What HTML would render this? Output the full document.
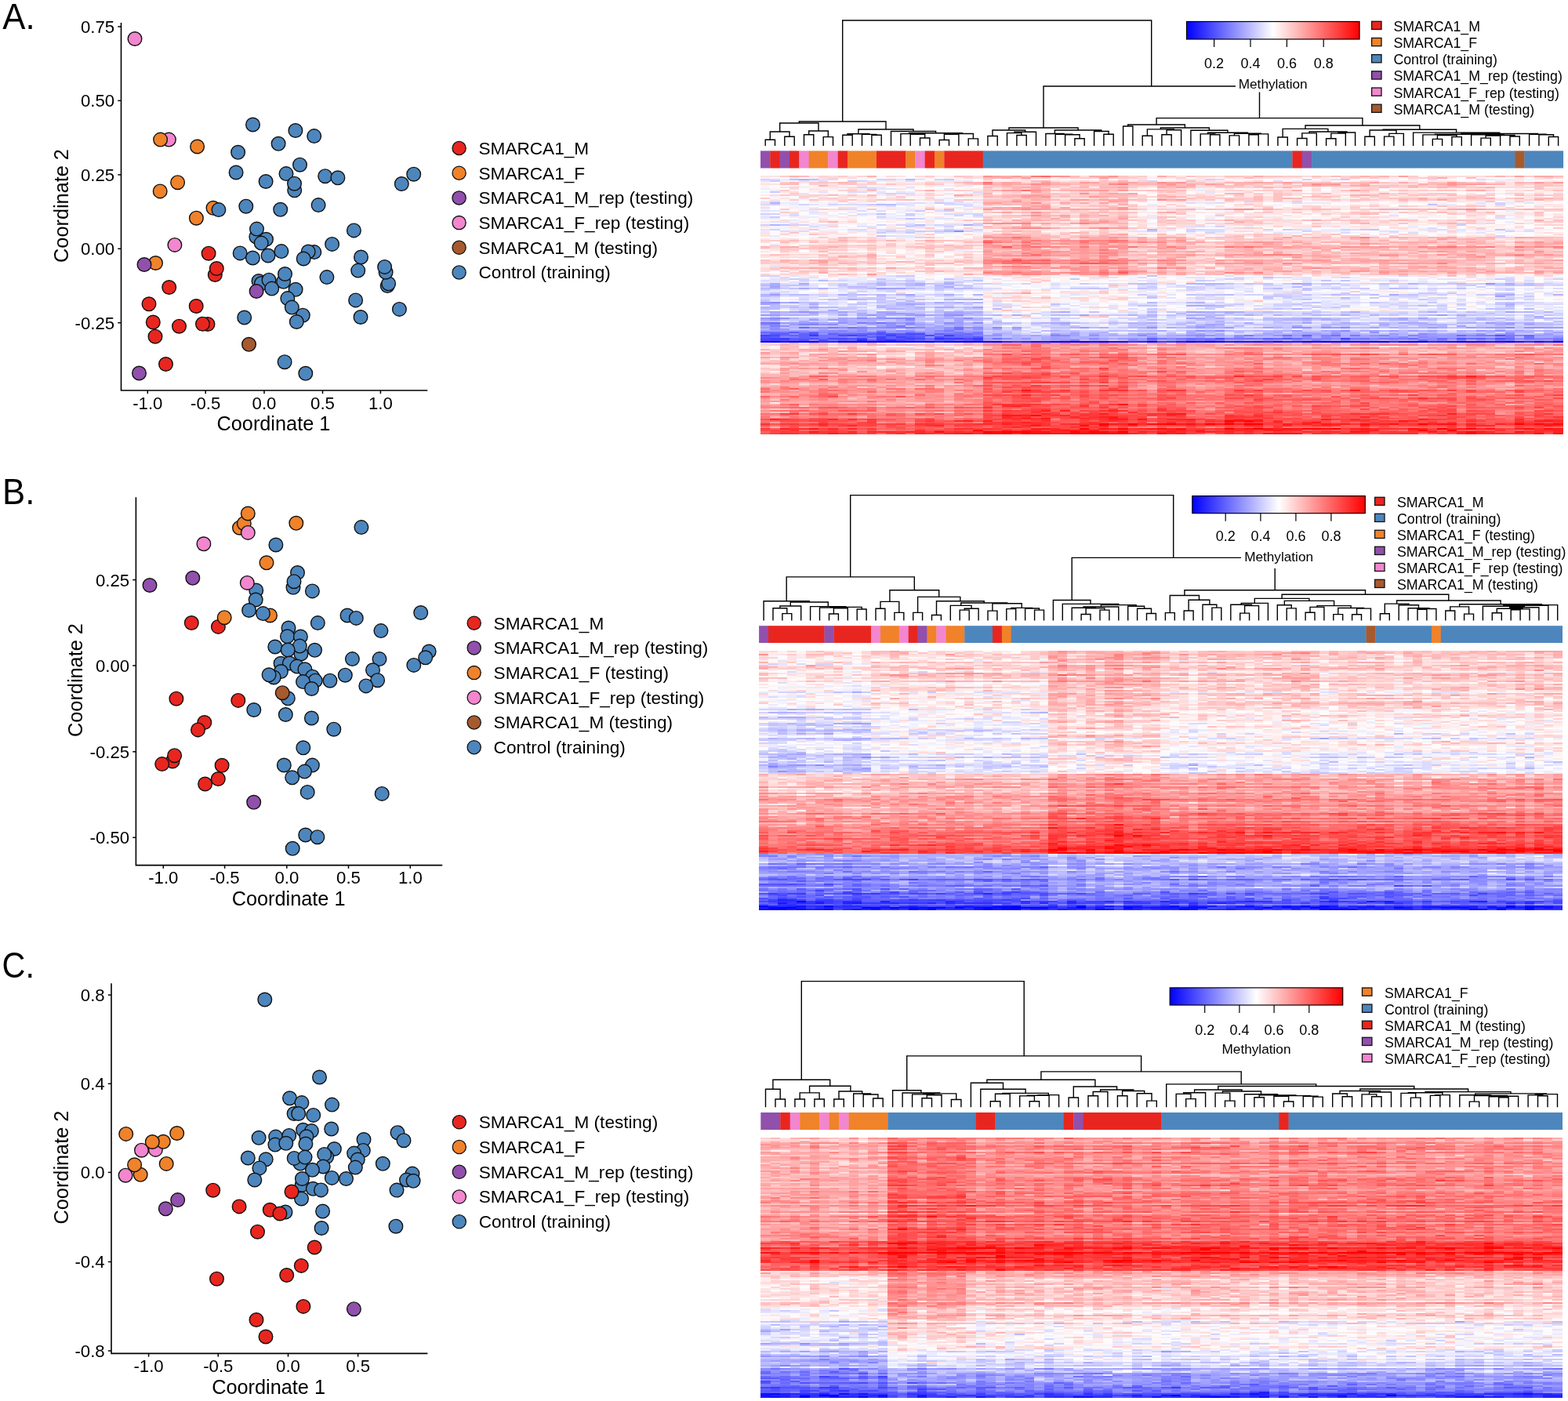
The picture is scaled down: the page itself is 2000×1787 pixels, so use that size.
<!DOCTYPE html>
<html><head><meta charset="utf-8"><title>Figure</title>
<style>html,body{margin:0;padding:0;background:#fff}#w{position:relative;width:2000px;height:1787px;overflow:hidden;background:#fff}svg{position:absolute;left:0;top:0}</style>
</head><body><div id="w">
<div style="position:absolute;left:970.00px;top:224.00px;width:283.70px;height:330.40px;background:linear-gradient(to bottom,#ffe5e5 0.0px 4.0px,#e7e7ff 4.0px 8.0px,#ffd4d4 8.0px 11.9px,#fff2f2 11.9px 15.9px,#fff2f2 15.9px 19.9px,#fbfbff 19.9px 23.9px,#ffe0e0 23.9px 27.9px,#ffe0e0 27.9px 31.8px,#f5f5ff 31.8px 35.8px,#ededff 35.8px 39.8px,#ffeeee 39.8px 43.8px,#f9f9ff 43.8px 47.8px,#efefff 47.8px 51.7px,#f7f7ff 51.7px 55.7px,#fff2f2 55.7px 59.7px,#f2f2ff 59.7px 63.7px,#fffcfc 63.7px 67.7px,#e1e1ff 67.7px 71.7px,#fff6f6 71.7px 75.6px,#fff8f8 75.6px 79.6px,#ffd9d9 79.6px 83.6px,#ffe2e2 83.6px 87.6px,#ffcece 87.6px 91.6px,#ffdcdc 91.6px 95.5px,#ffe9e9 95.5px 99.5px,#ffdada 99.5px 103.5px,#ffe2e2 103.5px 107.5px,#ffcccc 107.5px 111.5px,#ffd7d7 111.5px 115.4px,#ffd9d9 115.4px 119.4px,#ffdada 119.4px 123.4px,#ffe3e3 123.4px 127.4px,#f9f9ff 127.4px 131.4px,#e2e2ff 131.4px 135.3px,#d9d9ff 135.3px 139.3px,#d1d1ff 139.3px 143.3px,#d3d3ff 143.3px 147.3px,#f1f1ff 147.3px 151.3px,#d0d0ff 151.3px 155.2px,#d8d8ff 155.2px 159.2px,#d6d6ff 159.2px 163.2px,#d2d2ff 163.2px 167.2px,#c7c7ff 167.2px 171.2px,#c6c6ff 171.2px 175.2px,#b4b4ff 175.2px 179.1px,#bebeff 179.1px 183.1px,#bbbbff 183.1px 187.1px,#9c9cff 187.1px 191.1px,#9f9fff 191.1px 195.1px,#a1a1ff 195.1px 199.0px,#7272ff 199.0px 203.0px,#6161ff 203.0px 207.0px,#4f4fff 207.0px 211.0px,#9b9bff 211.0px 215.0px,#ffd0d0 215.0px 218.9px,#ffc7c7 218.9px 222.9px,#ffc4c4 222.9px 226.9px,#ffc5c5 226.9px 230.9px,#ffacac 230.9px 234.9px,#ffa7a7 234.9px 238.8px,#ffafaf 238.8px 242.8px,#ffc1c1 242.8px 246.8px,#ffbbbb 246.8px 250.8px,#ffb1b1 250.8px 254.8px,#ff9191 254.8px 258.7px,#ff8d8d 258.7px 262.7px,#ffaaaa 262.7px 266.7px,#ffa1a1 266.7px 270.7px,#ff8a8a 270.7px 274.7px,#ff9494 274.7px 278.7px,#ff8787 278.7px 282.6px,#ff9a9a 282.6px 286.6px,#ffa4a4 286.6px 290.6px,#ff9090 290.6px 294.6px,#ff8181 294.6px 298.6px,#ff8686 298.6px 302.5px,#ff6d6d 302.5px 306.5px,#ff8181 306.5px 310.5px,#ff5252 310.5px 314.5px,#ff5353 314.5px 318.5px,#ff5a5a 318.5px 322.4px,#ff4848 322.4px 326.4px,#ff3636 326.4px 330.4px)"></div><div style="position:absolute;left:1253.70px;top:224.00px;width:185.02px;height:330.40px;background:linear-gradient(to bottom,#ffb2b2 0.0px 4.0px,#ffe1e1 4.0px 8.0px,#ffa9a9 8.0px 11.9px,#ffc0c0 11.9px 15.9px,#ffb6b6 15.9px 19.9px,#ffcbcb 19.9px 23.9px,#ffb6b6 23.9px 27.9px,#ffbebe 27.9px 31.8px,#ffbaba 31.8px 35.8px,#ffcbcb 35.8px 39.8px,#ffadad 39.8px 43.8px,#ffcccc 43.8px 47.8px,#ffcaca 47.8px 51.7px,#ffc8c8 51.7px 55.7px,#ffc0c0 55.7px 59.7px,#ffbebe 59.7px 63.7px,#ffb9b9 63.7px 67.7px,#ffe2e2 67.7px 71.7px,#ffcbcb 71.7px 75.6px,#ffafaf 75.6px 79.6px,#ff9e9e 79.6px 83.6px,#ff9696 83.6px 87.6px,#ff9898 87.6px 91.6px,#ffaaaa 91.6px 95.5px,#ff9e9e 95.5px 99.5px,#ff9898 99.5px 103.5px,#ffb1b1 103.5px 107.5px,#ff7e7e 107.5px 111.5px,#ff9898 111.5px 115.4px,#ff9e9e 115.4px 119.4px,#ffaeae 119.4px 123.4px,#ff9191 123.4px 127.4px,#ffebeb 127.4px 131.4px,#fffafa 131.4px 135.3px,#f3f3ff 135.3px 139.3px,#fdfdff 139.3px 143.3px,#f8f8ff 143.3px 147.3px,#ffe2e2 147.3px 151.3px,#fff7f7 151.3px 155.2px,#ffe7e7 155.2px 159.2px,#fff4f4 159.2px 163.2px,#f2f2ff 163.2px 167.2px,#fff9f9 167.2px 171.2px,#f8f8ff 171.2px 175.2px,#dbdbff 175.2px 179.1px,#f5f5ff 179.1px 183.1px,#efefff 183.1px 187.1px,#cdcdff 187.1px 191.1px,#ceceff 191.1px 195.1px,#d6d6ff 195.1px 199.0px,#c3c3ff 199.0px 203.0px,#acacff 203.0px 207.0px,#a3a3ff 207.0px 211.0px,#c1c1ff 211.0px 215.0px,#ff9090 215.0px 218.9px,#ff8d8d 218.9px 222.9px,#ff8e8e 222.9px 226.9px,#ff7b7b 226.9px 230.9px,#ff7070 230.9px 234.9px,#ff6e6e 234.9px 238.8px,#ff7a7a 238.8px 242.8px,#ff7c7c 242.8px 246.8px,#ff8888 246.8px 250.8px,#ff6a6a 250.8px 254.8px,#ff5a5a 254.8px 258.7px,#ff7373 258.7px 262.7px,#ff6d6d 262.7px 266.7px,#ff5f5f 266.7px 270.7px,#ff5d5d 270.7px 274.7px,#ff6363 274.7px 278.7px,#ff5858 278.7px 282.6px,#ff6363 282.6px 286.6px,#ff6c6c 286.6px 290.6px,#ff4b4b 290.6px 294.6px,#ff5a5a 294.6px 298.6px,#ff4848 298.6px 302.5px,#ff3939 302.5px 306.5px,#ff3535 306.5px 310.5px,#ff4242 310.5px 314.5px,#ff3535 314.5px 318.5px,#ff4141 318.5px 322.4px,#ff2e2e 322.4px 326.4px,#ff0b0b 326.4px 330.4px)"></div><div style="position:absolute;left:1438.73px;top:224.00px;width:555.07px;height:330.40px;background:linear-gradient(to bottom,#ffd4d4 0.0px 4.0px,#fffdfd 4.0px 8.0px,#ffb9b9 8.0px 11.9px,#ffcaca 11.9px 15.9px,#ffdede 15.9px 19.9px,#ffe4e4 19.9px 23.9px,#ffd6d6 23.9px 27.9px,#ffcccc 27.9px 31.8px,#fff5f5 31.8px 35.8px,#ffeeee 35.8px 39.8px,#ffd6d6 39.8px 43.8px,#ffe3e3 43.8px 47.8px,#fff0f0 47.8px 51.7px,#ffeded 51.7px 55.7px,#ffdbdb 55.7px 59.7px,#ffe2e2 59.7px 63.7px,#fff1f1 63.7px 67.7px,#f1f1ff 67.7px 71.7px,#fff3f3 71.7px 75.6px,#ffd2d2 75.6px 79.6px,#ffc8c8 79.6px 83.6px,#ffb7b7 83.6px 87.6px,#ffadad 87.6px 91.6px,#ffbebe 91.6px 95.5px,#ffbfbf 95.5px 99.5px,#ffabab 99.5px 103.5px,#ffc9c9 103.5px 107.5px,#ffb1b1 107.5px 111.5px,#ffc0c0 111.5px 115.4px,#ffbcbc 115.4px 119.4px,#ffbcbc 119.4px 123.4px,#ffc2c2 123.4px 127.4px,#fcfcff 127.4px 131.4px,#f2f2ff 131.4px 135.3px,#e4e4ff 135.3px 139.3px,#e8e8ff 139.3px 143.3px,#e7e7ff 143.3px 147.3px,#fdfdff 147.3px 151.3px,#e1e1ff 151.3px 155.2px,#e9e9ff 155.2px 159.2px,#f1f1ff 159.2px 163.2px,#dedeff 163.2px 167.2px,#ebebff 167.2px 171.2px,#e2e2ff 171.2px 175.2px,#cfcfff 175.2px 179.1px,#d6d6ff 179.1px 183.1px,#d3d3ff 183.1px 187.1px,#c1c1ff 187.1px 191.1px,#babaff 191.1px 195.1px,#cdcdff 195.1px 199.0px,#b9b9ff 199.0px 203.0px,#9a9aff 203.0px 207.0px,#8181ff 207.0px 211.0px,#b0b0ff 211.0px 215.0px,#ffadad 215.0px 218.9px,#ffa2a2 218.9px 222.9px,#ffadad 222.9px 226.9px,#ff8e8e 226.9px 230.9px,#ff8f8f 230.9px 234.9px,#ff9b9b 234.9px 238.8px,#ff8f8f 238.8px 242.8px,#ff9898 242.8px 246.8px,#ff9090 246.8px 250.8px,#ff8f8f 250.8px 254.8px,#ff6464 254.8px 258.7px,#ff7474 258.7px 262.7px,#ff8989 262.7px 266.7px,#ff9090 266.7px 270.7px,#ff7373 270.7px 274.7px,#ff7b7b 274.7px 278.7px,#ff6f6f 278.7px 282.6px,#ff6464 282.6px 286.6px,#ff7878 286.6px 290.6px,#ff6c6c 290.6px 294.6px,#ff6c6c 294.6px 298.6px,#ff6161 298.6px 302.5px,#ff5151 302.5px 306.5px,#ff5757 306.5px 310.5px,#ff4040 310.5px 314.5px,#ff3030 314.5px 318.5px,#ff5252 318.5px 322.4px,#ff2b2b 322.4px 326.4px,#ff3131 326.4px 330.4px)"></div><div style="position:absolute;left:968.10px;top:829.90px;width:142.97px;height:330.70px;background:linear-gradient(to bottom,#ffe0e0 0.0px 4.0px,#ffdada 4.0px 8.0px,#ffebeb 8.0px 12.0px,#ffecec 12.0px 15.9px,#fff9f9 15.9px 19.9px,#ffcaca 19.9px 23.9px,#fff8f8 23.9px 27.9px,#ffdfdf 27.9px 31.9px,#ffe1e1 31.9px 35.9px,#ffe7e7 35.9px 39.8px,#fffbfb 39.8px 43.8px,#fff9f9 43.8px 47.8px,#fffdfd 47.8px 51.8px,#f0f0ff 51.8px 55.8px,#f7f7ff 55.8px 59.8px,#fffdfd 59.8px 63.7px,#fff3f3 63.7px 67.7px,#fffcfc 67.7px 71.7px,#d7d7ff 71.7px 75.7px,#dfdfff 75.7px 79.7px,#fdfdff 79.7px 83.7px,#cdcdff 83.7px 87.7px,#f0f0ff 87.7px 91.6px,#c7c7ff 91.6px 95.6px,#dcdcff 95.6px 99.6px,#babaff 99.6px 103.6px,#d2d2ff 103.6px 107.6px,#f9f9ff 107.6px 111.6px,#c2c2ff 111.6px 115.5px,#f7f7ff 115.5px 119.5px,#f2f2ff 119.5px 123.5px,#e8e8ff 123.5px 127.5px,#e4e4ff 127.5px 131.5px,#bfbfff 131.5px 135.5px,#c8c8ff 135.5px 139.5px,#d0d0ff 139.5px 143.4px,#c1c1ff 143.4px 147.4px,#bdbdff 147.4px 151.4px,#c1c1ff 151.4px 155.4px,#fff4f4 155.4px 159.4px,#ffd7d7 159.4px 163.4px,#ffc6c6 163.4px 167.3px,#ffc4c4 167.3px 171.3px,#ffb9b9 171.3px 175.3px,#ffd7d7 175.3px 179.3px,#ffc4c4 179.3px 183.3px,#ffc1c1 183.3px 187.3px,#ff9d9d 187.3px 191.2px,#ffa2a2 191.2px 195.2px,#ffadad 195.2px 199.2px,#ffb7b7 199.2px 203.2px,#ffb6b6 203.2px 207.2px,#ffa4a4 207.2px 211.2px,#ff8f8f 211.2px 215.2px,#ff8f8f 215.2px 219.1px,#ffabab 219.1px 223.1px,#ff8989 223.1px 227.1px,#ff8888 227.1px 231.1px,#ff7b7b 231.1px 235.1px,#ff7a7a 235.1px 239.1px,#ff6f6f 239.1px 243.0px,#ff7a7a 243.0px 247.0px,#ff7070 247.0px 251.0px,#ff5353 251.0px 255.0px,#ff6060 255.0px 259.0px,#9d9dff 259.0px 263.0px,#acacff 263.0px 267.0px,#aeaeff 267.0px 270.9px,#9696ff 270.9px 274.9px,#8585ff 274.9px 278.9px,#9393ff 278.9px 282.9px,#a9a9ff 282.9px 286.9px,#7f7fff 286.9px 290.9px,#7272ff 290.9px 294.8px,#7a7aff 294.8px 298.8px,#8b8bff 298.8px 302.8px,#7373ff 302.8px 306.8px,#6262ff 306.8px 310.8px,#6969ff 310.8px 314.8px,#5252ff 314.8px 318.7px,#3333ff 318.7px 322.7px,#3838ff 322.7px 326.7px,#1b1bff 326.7px 330.7px)"></div><div style="position:absolute;left:1111.07px;top:829.90px;width:226.37px;height:330.70px;background:linear-gradient(to bottom,#ffd4d4 0.0px 4.0px,#ffd1d1 4.0px 8.0px,#ffe1e1 8.0px 12.0px,#ffdede 12.0px 15.9px,#ffdbdb 15.9px 19.9px,#ffc7c7 19.9px 23.9px,#ffeded 23.9px 27.9px,#ffb8b8 27.9px 31.9px,#ffc7c7 31.9px 35.9px,#ffd2d2 35.9px 39.8px,#fff4f4 39.8px 43.8px,#ffdddd 43.8px 47.8px,#ffdbdb 47.8px 51.8px,#fff4f4 51.8px 55.8px,#fff2f2 55.8px 59.8px,#ffe9e9 59.8px 63.7px,#ffe6e6 63.7px 67.7px,#ffe7e7 67.7px 71.7px,#fffcfc 71.7px 75.7px,#f6f6ff 75.7px 79.7px,#fff7f7 79.7px 83.7px,#f4f4ff 83.7px 87.7px,#ffffff 87.7px 91.6px,#f2f2ff 91.6px 95.6px,#fefeff 95.6px 99.6px,#ddddff 99.6px 103.6px,#e7e7ff 103.6px 107.6px,#fff3f3 107.6px 111.6px,#ddddff 111.6px 115.5px,#fff7f7 115.5px 119.5px,#fff9f9 119.5px 123.5px,#fffdfd 123.5px 127.5px,#fffefe 127.5px 131.5px,#e7e7ff 131.5px 135.5px,#e3e3ff 135.5px 139.5px,#e6e6ff 139.5px 143.4px,#dbdbff 143.4px 147.4px,#d8d8ff 147.4px 151.4px,#e5e5ff 151.4px 155.4px,#ffe9e9 155.4px 159.4px,#ffcece 159.4px 163.4px,#ffb7b7 163.4px 167.3px,#ffadad 167.3px 171.3px,#ffaeae 171.3px 175.3px,#ffc4c4 175.3px 179.3px,#ffbfbf 179.3px 183.3px,#ffa6a6 183.3px 187.3px,#ff9f9f 187.3px 191.2px,#ffa3a3 191.2px 195.2px,#ffa2a2 195.2px 199.2px,#ffb2b2 199.2px 203.2px,#ffb1b1 203.2px 207.2px,#ff9191 207.2px 211.2px,#ff8d8d 211.2px 215.2px,#ffa0a0 215.2px 219.1px,#ff8787 219.1px 223.1px,#ff8585 223.1px 227.1px,#ff7e7e 227.1px 231.1px,#ff6b6b 231.1px 235.1px,#ff6c6c 235.1px 239.1px,#ff6e6e 239.1px 243.0px,#ff6b6b 243.0px 247.0px,#ff5c5c 247.0px 251.0px,#ff4a4a 251.0px 255.0px,#ff4a4a 255.0px 259.0px,#a9a9ff 259.0px 263.0px,#adadff 263.0px 267.0px,#b4b4ff 267.0px 270.9px,#a6a6ff 270.9px 274.9px,#8c8cff 274.9px 278.9px,#9b9bff 278.9px 282.9px,#a9a9ff 282.9px 286.9px,#9898ff 286.9px 290.9px,#7575ff 290.9px 294.8px,#9393ff 294.8px 298.8px,#8a8aff 298.8px 302.8px,#8181ff 302.8px 306.8px,#5c5cff 306.8px 310.8px,#7272ff 310.8px 314.8px,#6161ff 314.8px 318.7px,#3f3fff 318.7px 322.7px,#4a4aff 322.7px 326.7px,#1414ff 326.7px 330.7px)"></div><div style="position:absolute;left:1337.43px;top:829.90px;width:142.97px;height:330.70px;background:linear-gradient(to bottom,#ffadad 0.0px 4.0px,#ffb1b1 4.0px 8.0px,#ffa6a6 8.0px 12.0px,#ffbaba 12.0px 15.9px,#ffbebe 15.9px 19.9px,#ffabab 19.9px 23.9px,#ffcaca 23.9px 27.9px,#ffa8a8 27.9px 31.9px,#ffbbbb 31.9px 35.9px,#ff9f9f 35.9px 39.8px,#ffb4b4 39.8px 43.8px,#ffbbbb 43.8px 47.8px,#ffc2c2 47.8px 51.8px,#ffbdbd 51.8px 55.8px,#ffb9b9 55.8px 59.8px,#ffc1c1 59.8px 63.7px,#ffbaba 63.7px 67.7px,#ffbfbf 67.7px 71.7px,#ffcccc 71.7px 75.7px,#ffcfcf 75.7px 79.7px,#ffc7c7 79.7px 83.7px,#ffe2e2 83.7px 87.7px,#ffbfbf 87.7px 91.6px,#ffe6e6 91.6px 95.6px,#ffcdcd 95.6px 99.6px,#ffecec 99.6px 103.6px,#ffe7e7 103.6px 107.6px,#ffbbbb 107.6px 111.6px,#fff6f6 111.6px 115.5px,#ffc4c4 115.5px 119.5px,#ffc9c9 119.5px 123.5px,#ffe4e4 123.5px 127.5px,#ffdddd 127.5px 131.5px,#fff1f1 131.5px 135.5px,#ffeded 135.5px 139.5px,#ffdddd 139.5px 143.4px,#fffcfc 143.4px 147.4px,#fff5f5 147.4px 151.4px,#fff6f6 151.4px 155.4px,#ffbfbf 155.4px 159.4px,#ffa5a5 159.4px 163.4px,#ff8d8d 163.4px 167.3px,#ff8f8f 167.3px 171.3px,#ff8585 171.3px 175.3px,#ff9f9f 175.3px 179.3px,#ff9f9f 179.3px 183.3px,#ff8a8a 183.3px 187.3px,#ff7171 187.3px 191.2px,#ff8989 191.2px 195.2px,#ff6e6e 195.2px 199.2px,#ff8d8d 199.2px 203.2px,#ff8484 203.2px 207.2px,#ff7676 207.2px 211.2px,#ff5757 211.2px 215.2px,#ff6f6f 215.2px 219.1px,#ff6565 219.1px 223.1px,#ff5555 223.1px 227.1px,#ff4e4e 227.1px 231.1px,#ff4141 231.1px 235.1px,#ff3f3f 235.1px 239.1px,#ff4a4a 239.1px 243.0px,#ff4848 243.0px 247.0px,#ff2d2d 247.0px 251.0px,#ff2828 251.0px 255.0px,#ff1c1c 255.0px 259.0px,#cbcbff 259.0px 263.0px,#b9b9ff 263.0px 267.0px,#bcbcff 267.0px 270.9px,#bbbbff 270.9px 274.9px,#a2a2ff 274.9px 278.9px,#b9b9ff 278.9px 282.9px,#b5b5ff 282.9px 286.9px,#9e9eff 286.9px 290.9px,#9696ff 290.9px 294.8px,#a6a6ff 294.8px 298.8px,#aaaaff 298.8px 302.8px,#9d9dff 302.8px 306.8px,#7e7eff 306.8px 310.8px,#8585ff 310.8px 314.8px,#7878ff 314.8px 318.7px,#4646ff 318.7px 322.7px,#4c4cff 322.7px 326.7px,#2525ff 326.7px 330.7px)"></div><div style="position:absolute;left:1480.40px;top:829.90px;width:512.30px;height:330.70px;background:linear-gradient(to bottom,#ffbcbc 0.0px 4.0px,#ffc3c3 4.0px 8.0px,#ffc7c7 8.0px 12.0px,#ffd6d6 12.0px 15.9px,#ffd3d3 15.9px 19.9px,#ffc0c0 19.9px 23.9px,#ffe5e5 23.9px 27.9px,#ffbebe 27.9px 31.9px,#ffc9c9 31.9px 35.9px,#ffc6c6 35.9px 39.8px,#ffdada 39.8px 43.8px,#ffd0d0 43.8px 47.8px,#ffd2d2 47.8px 51.8px,#ffe6e6 51.8px 55.8px,#ffd6d6 55.8px 59.8px,#ffdada 59.8px 63.7px,#ffc5c5 63.7px 67.7px,#ffd1d1 67.7px 71.7px,#ffdfdf 71.7px 75.7px,#fff1f1 75.7px 79.7px,#ffdbdb 79.7px 83.7px,#ffefef 83.7px 87.7px,#ffe9e9 87.7px 91.6px,#fffdfd 91.6px 95.6px,#ffeaea 95.6px 99.6px,#fdfdff 99.6px 103.6px,#f9f9ff 103.6px 107.6px,#ffe9e9 107.6px 111.6px,#f2f2ff 111.6px 115.5px,#ffe3e3 115.5px 119.5px,#fff0f0 119.5px 123.5px,#fff1f1 123.5px 127.5px,#fffafa 127.5px 131.5px,#f3f3ff 131.5px 135.5px,#f2f2ff 135.5px 139.5px,#f7f7ff 139.5px 143.4px,#e9e9ff 143.4px 147.4px,#e9e9ff 147.4px 151.4px,#eeeeff 151.4px 155.4px,#ffe0e0 155.4px 159.4px,#ffbaba 159.4px 163.4px,#ff9e9e 163.4px 167.3px,#ff9b9b 167.3px 171.3px,#ff9c9c 171.3px 175.3px,#ffa2a2 175.3px 179.3px,#ff9f9f 179.3px 183.3px,#ff9a9a 183.3px 187.3px,#ff8484 187.3px 191.2px,#ff9494 191.2px 195.2px,#ff8a8a 195.2px 199.2px,#ff9e9e 199.2px 203.2px,#ff9999 203.2px 207.2px,#ff6969 207.2px 211.2px,#ff7979 211.2px 215.2px,#ff8585 215.2px 219.1px,#ff7171 219.1px 223.1px,#ff6262 223.1px 227.1px,#ff5b5b 227.1px 231.1px,#ff4a4a 231.1px 235.1px,#ff4b4b 235.1px 239.1px,#ff5d5d 239.1px 243.0px,#ff4747 243.0px 247.0px,#ff4444 247.0px 251.0px,#ff2323 251.0px 255.0px,#ff2020 255.0px 259.0px,#c2c2ff 259.0px 263.0px,#c3c3ff 263.0px 267.0px,#c3c3ff 267.0px 270.9px,#aaaaff 270.9px 274.9px,#9a9aff 274.9px 278.9px,#a8a8ff 278.9px 282.9px,#bcbcff 282.9px 286.9px,#9292ff 286.9px 290.9px,#8a8aff 290.9px 294.8px,#9c9cff 294.8px 298.8px,#a5a5ff 298.8px 302.8px,#9292ff 302.8px 306.8px,#6f6fff 306.8px 310.8px,#7575ff 310.8px 314.8px,#6f6fff 314.8px 318.7px,#4848ff 318.7px 322.7px,#4c4cff 322.7px 326.7px,#2121ff 326.7px 330.7px)"></div><div style="position:absolute;left:970.30px;top:1450.70px;width:162.09px;height:332.00px;background:linear-gradient(to bottom,#ffc5c5 0.0px 4.0px,#ffb3b3 4.0px 8.0px,#ffa5a5 8.0px 12.0px,#ffaeae 12.0px 16.0px,#ffb7b7 16.0px 20.0px,#ffbaba 20.0px 24.0px,#ffa2a2 24.0px 28.0px,#ffb9b9 28.0px 32.0px,#ffbbbb 32.0px 36.0px,#ffabab 36.0px 40.0px,#ffb5b5 40.0px 44.0px,#ffb3b3 44.0px 48.0px,#ffb3b3 48.0px 52.0px,#ffa3a3 52.0px 56.0px,#ffb2b2 56.0px 60.0px,#ffb5b5 60.0px 64.0px,#ffabab 64.0px 68.0px,#ff9f9f 68.0px 72.0px,#ffa2a2 72.0px 76.0px,#ffaaaa 76.0px 80.0px,#ff9393 80.0px 84.0px,#ffa1a1 84.0px 88.0px,#ffaaaa 88.0px 92.0px,#ff9f9f 92.0px 96.0px,#ffb9b9 96.0px 100.0px,#ff8c8c 100.0px 104.0px,#ff8484 104.0px 108.0px,#ffa9a9 108.0px 112.0px,#ffa3a3 112.0px 116.0px,#ff9c9c 116.0px 120.0px,#ff9595 120.0px 124.0px,#ff8b8b 124.0px 128.0px,#ff9595 128.0px 132.0px,#ff5757 132.0px 136.0px,#ff6767 136.0px 140.0px,#ff4040 140.0px 144.0px,#ff3d3d 144.0px 148.0px,#ff5757 148.0px 152.0px,#ff5353 152.0px 156.0px,#ff3c3c 156.0px 160.0px,#ff6a6a 160.0px 164.0px,#ff5252 164.0px 168.0px,#ff9898 168.0px 172.0px,#ffc1c1 172.0px 176.0px,#ffdddd 176.0px 180.0px,#ffe8e8 180.0px 184.0px,#ffe4e4 184.0px 188.0px,#ffe6e6 188.0px 192.0px,#ffe2e2 192.0px 196.0px,#ffdddd 196.0px 200.0px,#ffe0e0 200.0px 204.0px,#ffe3e3 204.0px 208.0px,#ffd8d8 208.0px 212.0px,#ffdada 212.0px 216.0px,#fffefe 216.0px 220.0px,#f0f0ff 220.0px 224.0px,#fff1f1 224.0px 228.0px,#fff9f9 228.0px 232.0px,#d9d9ff 232.0px 236.0px,#ededff 236.0px 240.0px,#ddddff 240.0px 244.0px,#cdcdff 244.0px 248.0px,#e2e2ff 248.0px 252.0px,#e6e6ff 252.0px 256.0px,#ebebff 256.0px 260.0px,#c5c5ff 260.0px 264.0px,#e9e9ff 264.0px 268.0px,#ddddff 268.0px 272.0px,#c3c3ff 272.0px 276.0px,#b2b2ff 276.0px 280.0px,#b8b8ff 280.0px 284.0px,#a2a2ff 284.0px 288.0px,#b0b0ff 288.0px 292.0px,#adadff 292.0px 296.0px,#8b8bff 296.0px 300.0px,#8787ff 300.0px 304.0px,#6868ff 304.0px 308.0px,#8080ff 308.0px 312.0px,#7171ff 312.0px 316.0px,#6565ff 316.0px 320.0px,#5a5aff 320.0px 324.0px,#4242ff 324.0px 328.0px,#1e1eff 328.0px 332.0px)"></div><div style="position:absolute;left:1132.39px;top:1450.70px;width:99.75px;height:332.00px;background:linear-gradient(to bottom,#ff8181 0.0px 4.0px,#ff7878 4.0px 8.0px,#ff6969 8.0px 12.0px,#ff6868 12.0px 16.0px,#ff7373 16.0px 20.0px,#ff8585 20.0px 24.0px,#ff5f5f 24.0px 28.0px,#ff7c7c 28.0px 32.0px,#ff6b6b 32.0px 36.0px,#ff6e6e 36.0px 40.0px,#ff6c6c 40.0px 44.0px,#ff7575 44.0px 48.0px,#ff7373 48.0px 52.0px,#ff6060 52.0px 56.0px,#ff6464 56.0px 60.0px,#ff6868 60.0px 64.0px,#ff6a6a 64.0px 68.0px,#ff6a6a 68.0px 72.0px,#ff5454 72.0px 76.0px,#ff6767 76.0px 80.0px,#ff5353 80.0px 84.0px,#ff5d5d 84.0px 88.0px,#ff6666 88.0px 92.0px,#ff5959 92.0px 96.0px,#ff6a6a 96.0px 100.0px,#ff5252 100.0px 104.0px,#ff5050 104.0px 108.0px,#ff6a6a 108.0px 112.0px,#ff6464 112.0px 116.0px,#ff4848 116.0px 120.0px,#ff5454 120.0px 124.0px,#ff4d4d 124.0px 128.0px,#ff5656 128.0px 132.0px,#ff2828 132.0px 136.0px,#ff3838 136.0px 140.0px,#ff2121 140.0px 144.0px,#ff1a1a 144.0px 148.0px,#ff3737 148.0px 152.0px,#ff3c3c 152.0px 156.0px,#ff2a2a 156.0px 160.0px,#ff4646 160.0px 164.0px,#ff3636 164.0px 168.0px,#ff6565 168.0px 172.0px,#ff7474 172.0px 176.0px,#ff9999 176.0px 180.0px,#ff9494 180.0px 184.0px,#ff9696 184.0px 188.0px,#ff9191 188.0px 192.0px,#ff8f8f 192.0px 196.0px,#ff9494 196.0px 200.0px,#ff9898 200.0px 204.0px,#ff9696 204.0px 208.0px,#ff9c9c 208.0px 212.0px,#ff9090 212.0px 216.0px,#ffb7b7 216.0px 220.0px,#ffb9b9 220.0px 224.0px,#ffaaaa 224.0px 228.0px,#ffb0b0 228.0px 232.0px,#ffdbdb 232.0px 236.0px,#ffbfbf 236.0px 240.0px,#ffcdcd 240.0px 244.0px,#ffdfdf 244.0px 248.0px,#ffcbcb 248.0px 252.0px,#ffcbcb 252.0px 256.0px,#ffe6e6 256.0px 260.0px,#fff2f2 260.0px 264.0px,#ffeaea 264.0px 268.0px,#ffeded 268.0px 272.0px,#efefff 272.0px 276.0px,#ebebff 276.0px 280.0px,#f4f4ff 280.0px 284.0px,#e8e8ff 284.0px 288.0px,#d5d5ff 288.0px 292.0px,#c1c1ff 292.0px 296.0px,#b9b9ff 296.0px 300.0px,#a7a7ff 300.0px 304.0px,#9d9dff 304.0px 308.0px,#a2a2ff 308.0px 312.0px,#9292ff 312.0px 316.0px,#7c7cff 316.0px 320.0px,#7a7aff 320.0px 324.0px,#5757ff 324.0px 328.0px,#3f3fff 328.0px 332.0px)"></div><div style="position:absolute;left:1232.13px;top:1450.70px;width:760.57px;height:332.00px;background:linear-gradient(to bottom,#ff9e9e 0.0px 4.0px,#ff9494 4.0px 8.0px,#ff8d8d 8.0px 12.0px,#ff7f7f 12.0px 16.0px,#ff8c8c 16.0px 20.0px,#ff9797 20.0px 24.0px,#ff8f8f 24.0px 28.0px,#ff9090 28.0px 32.0px,#ff8787 32.0px 36.0px,#ff8d8d 36.0px 40.0px,#ff8d8d 40.0px 44.0px,#ff9494 44.0px 48.0px,#ff8f8f 48.0px 52.0px,#ff7575 52.0px 56.0px,#ff8282 56.0px 60.0px,#ff8282 60.0px 64.0px,#ff9494 64.0px 68.0px,#ff7d7d 68.0px 72.0px,#ff7979 72.0px 76.0px,#ff8a8a 76.0px 80.0px,#ff6e6e 80.0px 84.0px,#ff6f6f 84.0px 88.0px,#ff8383 88.0px 92.0px,#ff7575 92.0px 96.0px,#ff8c8c 96.0px 100.0px,#ff6969 100.0px 104.0px,#ff6464 104.0px 108.0px,#ff7a7a 108.0px 112.0px,#ff7575 112.0px 116.0px,#ff7272 116.0px 120.0px,#ff7a7a 120.0px 124.0px,#ff7878 124.0px 128.0px,#ff6b6b 128.0px 132.0px,#ff3e3e 132.0px 136.0px,#ff3b3b 136.0px 140.0px,#ff2929 140.0px 144.0px,#ff2424 144.0px 148.0px,#ff3434 148.0px 152.0px,#ff3232 152.0px 156.0px,#ff2323 156.0px 160.0px,#ff4e4e 160.0px 164.0px,#ff3939 164.0px 168.0px,#ff7a7a 168.0px 172.0px,#ffa5a5 172.0px 176.0px,#ffbbbb 176.0px 180.0px,#ffcece 180.0px 184.0px,#ffbfbf 184.0px 188.0px,#ffc5c5 188.0px 192.0px,#ffc8c8 192.0px 196.0px,#ffc6c6 196.0px 200.0px,#ffc9c9 200.0px 204.0px,#ffc4c4 204.0px 208.0px,#ffc3c3 208.0px 212.0px,#ffc6c6 212.0px 216.0px,#ffebeb 216.0px 220.0px,#ffeaea 220.0px 224.0px,#ffcece 224.0px 228.0px,#ffd9d9 228.0px 232.0px,#f6f6ff 232.0px 236.0px,#ffe8e8 236.0px 240.0px,#fff7f7 240.0px 244.0px,#fcfcff 244.0px 248.0px,#fff8f8 248.0px 252.0px,#ffefef 252.0px 256.0px,#fdfdff 256.0px 260.0px,#f6f6ff 260.0px 264.0px,#fff1f1 264.0px 268.0px,#fdfdff 268.0px 272.0px,#e6e6ff 272.0px 276.0px,#e4e4ff 276.0px 280.0px,#ebebff 280.0px 284.0px,#dbdbff 284.0px 288.0px,#ccccff 288.0px 292.0px,#c7c7ff 292.0px 296.0px,#c7c7ff 296.0px 300.0px,#9898ff 300.0px 304.0px,#9999ff 304.0px 308.0px,#9f9fff 308.0px 312.0px,#8a8aff 312.0px 316.0px,#7d7dff 316.0px 320.0px,#7c7cff 320.0px 324.0px,#5454ff 324.0px 328.0px,#3333ff 328.0px 332.0px)"></div><canvas id="hA" width="1024" height="331" style="position:absolute;left:970px;top:224px;width:1024px;height:331px;filter:blur(0.45px)"></canvas><canvas id="hB" width="1025" height="332" style="position:absolute;left:968px;top:829px;width:1025px;height:332px;filter:blur(0.45px)"></canvas><canvas id="hC" width="1023" height="333" style="position:absolute;left:970px;top:1450px;width:1023px;height:333px;filter:blur(0.45px)"></canvas>
<svg width="2000" height="1787" viewBox="0 0 2000 1787">
<text transform="translate(3.3 37) scale(0.93 1)" font-size="47" font-family="'Liberation Sans', Arial, Helvetica, sans-serif">A.</text>
<path d="M154.5 29V498H545.3" fill="none" stroke="#000" stroke-width="1.6"/>
<path d="M188.3 498v4.2" stroke="#000" stroke-width="1.5"/>
<text x="188.3" y="521.8" font-size="22.2" text-anchor="middle" font-family="'Liberation Sans', Arial, Helvetica, sans-serif">-1.0</text>
<path d="M262.2 498v4.2" stroke="#000" stroke-width="1.5"/>
<text x="262.2" y="521.8" font-size="22.2" text-anchor="middle" font-family="'Liberation Sans', Arial, Helvetica, sans-serif">-0.5</text>
<path d="M337 498v4.2" stroke="#000" stroke-width="1.5"/>
<text x="337" y="521.8" font-size="22.2" text-anchor="middle" font-family="'Liberation Sans', Arial, Helvetica, sans-serif">0.0</text>
<path d="M411.5 498v4.2" stroke="#000" stroke-width="1.5"/>
<text x="411.5" y="521.8" font-size="22.2" text-anchor="middle" font-family="'Liberation Sans', Arial, Helvetica, sans-serif">0.5</text>
<path d="M485.4 498v4.2" stroke="#000" stroke-width="1.5"/>
<text x="485.4" y="521.8" font-size="22.2" text-anchor="middle" font-family="'Liberation Sans', Arial, Helvetica, sans-serif">1.0</text>
<path d="M154.5 34h-4.2" stroke="#000" stroke-width="1.5"/>
<text x="146.2" y="41.9" font-size="22.2" text-anchor="end" font-family="'Liberation Sans', Arial, Helvetica, sans-serif">0.75</text>
<path d="M154.5 128.4h-4.2" stroke="#000" stroke-width="1.5"/>
<text x="146.2" y="136.3" font-size="22.2" text-anchor="end" font-family="'Liberation Sans', Arial, Helvetica, sans-serif">0.50</text>
<path d="M154.5 222.9h-4.2" stroke="#000" stroke-width="1.5"/>
<text x="146.2" y="230.8" font-size="22.2" text-anchor="end" font-family="'Liberation Sans', Arial, Helvetica, sans-serif">0.25</text>
<path d="M154.5 317.3h-4.2" stroke="#000" stroke-width="1.5"/>
<text x="146.2" y="325.2" font-size="22.2" text-anchor="end" font-family="'Liberation Sans', Arial, Helvetica, sans-serif">0.00</text>
<path d="M154.5 411.7h-4.2" stroke="#000" stroke-width="1.5"/>
<text x="146.2" y="419.59999999999997" font-size="22.2" text-anchor="end" font-family="'Liberation Sans', Arial, Helvetica, sans-serif">-0.25</text>
<text x="348.9" y="549" font-size="25.3" text-anchor="middle" font-family="'Liberation Sans', Arial, Helvetica, sans-serif">Coordinate 1</text>
<text transform="translate(86.6 262.5) rotate(-90)" font-size="25.3" text-anchor="middle" font-family="'Liberation Sans', Arial, Helvetica, sans-serif">Coordinate 2</text>
<circle cx="172" cy="49.5" r="8.8" fill="#f286cf" stroke="#111" stroke-width="1.4"/>
<circle cx="215.4" cy="178.1" r="8.8" fill="#f286cf" stroke="#111" stroke-width="1.4"/>
<circle cx="222.9" cy="312.4" r="8.8" fill="#f286cf" stroke="#111" stroke-width="1.4"/>
<circle cx="204.6" cy="178.1" r="8.8" fill="#f0822a" stroke="#111" stroke-width="1.4"/>
<circle cx="251.6" cy="187.0" r="8.8" fill="#f0822a" stroke="#111" stroke-width="1.4"/>
<circle cx="226.6" cy="232.7" r="8.8" fill="#f0822a" stroke="#111" stroke-width="1.4"/>
<circle cx="204.2" cy="243.9" r="8.8" fill="#f0822a" stroke="#111" stroke-width="1.4"/>
<circle cx="272.0" cy="265.3" r="8.8" fill="#f0822a" stroke="#111" stroke-width="1.4"/>
<circle cx="250.4" cy="278.2" r="8.8" fill="#f0822a" stroke="#111" stroke-width="1.4"/>
<circle cx="198.5" cy="335.5" r="8.8" fill="#f0822a" stroke="#111" stroke-width="1.4"/>
<circle cx="322.5" cy="159.0" r="8.8" fill="#4d86bd" stroke="#111" stroke-width="1.4"/>
<circle cx="376.9" cy="166.5" r="8.8" fill="#4d86bd" stroke="#111" stroke-width="1.4"/>
<circle cx="400.7" cy="173.6" r="8.8" fill="#4d86bd" stroke="#111" stroke-width="1.4"/>
<circle cx="355.1" cy="183.3" r="8.8" fill="#4d86bd" stroke="#111" stroke-width="1.4"/>
<circle cx="303.6" cy="194.3" r="8.8" fill="#4d86bd" stroke="#111" stroke-width="1.4"/>
<circle cx="382.5" cy="210.2" r="8.8" fill="#4d86bd" stroke="#111" stroke-width="1.4"/>
<circle cx="301.1" cy="220.0" r="8.8" fill="#4d86bd" stroke="#111" stroke-width="1.4"/>
<circle cx="365.0" cy="221.6" r="8.8" fill="#4d86bd" stroke="#111" stroke-width="1.4"/>
<circle cx="414.7" cy="224.7" r="8.8" fill="#4d86bd" stroke="#111" stroke-width="1.4"/>
<circle cx="430.9" cy="226.8" r="8.8" fill="#4d86bd" stroke="#111" stroke-width="1.4"/>
<circle cx="527.7" cy="222.2" r="8.8" fill="#4d86bd" stroke="#111" stroke-width="1.4"/>
<circle cx="512.3" cy="234.5" r="8.8" fill="#4d86bd" stroke="#111" stroke-width="1.4"/>
<circle cx="339.1" cy="231.5" r="8.8" fill="#4d86bd" stroke="#111" stroke-width="1.4"/>
<circle cx="375.7" cy="242.8" r="8.8" fill="#4d86bd" stroke="#111" stroke-width="1.4"/>
<circle cx="375.5" cy="234.2" r="8.8" fill="#4d86bd" stroke="#111" stroke-width="1.4"/>
<circle cx="406.1" cy="261.6" r="8.8" fill="#4d86bd" stroke="#111" stroke-width="1.4"/>
<circle cx="357.7" cy="267.3" r="8.8" fill="#4d86bd" stroke="#111" stroke-width="1.4"/>
<circle cx="313.8" cy="263.2" r="8.8" fill="#4d86bd" stroke="#111" stroke-width="1.4"/>
<circle cx="278.9" cy="267.6" r="8.8" fill="#4d86bd" stroke="#111" stroke-width="1.4"/>
<circle cx="451.4" cy="293.9" r="8.8" fill="#4d86bd" stroke="#111" stroke-width="1.4"/>
<circle cx="326.8" cy="302.0" r="8.8" fill="#4d86bd" stroke="#111" stroke-width="1.4"/>
<circle cx="339.5" cy="305.3" r="8.8" fill="#4d86bd" stroke="#111" stroke-width="1.4"/>
<circle cx="333.2" cy="310.1" r="8.8" fill="#4d86bd" stroke="#111" stroke-width="1.4"/>
<circle cx="327.5" cy="292.1" r="8.8" fill="#4d86bd" stroke="#111" stroke-width="1.4"/>
<circle cx="423.6" cy="311.4" r="8.8" fill="#4d86bd" stroke="#111" stroke-width="1.4"/>
<circle cx="306.2" cy="322.9" r="8.8" fill="#4d86bd" stroke="#111" stroke-width="1.4"/>
<circle cx="322.4" cy="329.0" r="8.8" fill="#4d86bd" stroke="#111" stroke-width="1.4"/>
<circle cx="342.0" cy="326.0" r="8.8" fill="#4d86bd" stroke="#111" stroke-width="1.4"/>
<circle cx="358.9" cy="320.6" r="8.8" fill="#4d86bd" stroke="#111" stroke-width="1.4"/>
<circle cx="400.8" cy="321.6" r="8.8" fill="#4d86bd" stroke="#111" stroke-width="1.4"/>
<circle cx="393.2" cy="321.0" r="8.8" fill="#4d86bd" stroke="#111" stroke-width="1.4"/>
<circle cx="387.2" cy="330.0" r="8.8" fill="#4d86bd" stroke="#111" stroke-width="1.4"/>
<circle cx="460.5" cy="328.0" r="8.8" fill="#4d86bd" stroke="#111" stroke-width="1.4"/>
<circle cx="456.7" cy="345.1" r="8.8" fill="#4d86bd" stroke="#111" stroke-width="1.4"/>
<circle cx="494.2" cy="364.6" r="8.8" fill="#4d86bd" stroke="#111" stroke-width="1.4"/>
<circle cx="495.6" cy="361.8" r="8.8" fill="#4d86bd" stroke="#111" stroke-width="1.4"/>
<circle cx="492.1" cy="347.2" r="8.8" fill="#4d86bd" stroke="#111" stroke-width="1.4"/>
<circle cx="490.6" cy="340.4" r="8.8" fill="#4d86bd" stroke="#111" stroke-width="1.4"/>
<circle cx="416.9" cy="353.6" r="8.8" fill="#4d86bd" stroke="#111" stroke-width="1.4"/>
<circle cx="361.6" cy="359.3" r="8.8" fill="#4d86bd" stroke="#111" stroke-width="1.4"/>
<circle cx="363.5" cy="349.5" r="8.8" fill="#4d86bd" stroke="#111" stroke-width="1.4"/>
<circle cx="330.0" cy="358.5" r="8.8" fill="#4d86bd" stroke="#111" stroke-width="1.4"/>
<circle cx="333.4" cy="361.5" r="8.8" fill="#4d86bd" stroke="#111" stroke-width="1.4"/>
<circle cx="343.0" cy="357.2" r="8.8" fill="#4d86bd" stroke="#111" stroke-width="1.4"/>
<circle cx="346.7" cy="368.1" r="8.8" fill="#4d86bd" stroke="#111" stroke-width="1.4"/>
<circle cx="377.1" cy="369.3" r="8.8" fill="#4d86bd" stroke="#111" stroke-width="1.4"/>
<circle cx="366.8" cy="380.6" r="8.8" fill="#4d86bd" stroke="#111" stroke-width="1.4"/>
<circle cx="453.6" cy="382.9" r="8.8" fill="#4d86bd" stroke="#111" stroke-width="1.4"/>
<circle cx="372.3" cy="392.1" r="8.8" fill="#4d86bd" stroke="#111" stroke-width="1.4"/>
<circle cx="386.3" cy="402.2" r="8.8" fill="#4d86bd" stroke="#111" stroke-width="1.4"/>
<circle cx="378.3" cy="410.5" r="8.8" fill="#4d86bd" stroke="#111" stroke-width="1.4"/>
<circle cx="460.0" cy="404.5" r="8.8" fill="#4d86bd" stroke="#111" stroke-width="1.4"/>
<circle cx="509.4" cy="394.4" r="8.8" fill="#4d86bd" stroke="#111" stroke-width="1.4"/>
<circle cx="311.7" cy="405.0" r="8.8" fill="#4d86bd" stroke="#111" stroke-width="1.4"/>
<circle cx="363.1" cy="461.7" r="8.8" fill="#4d86bd" stroke="#111" stroke-width="1.4"/>
<circle cx="389.8" cy="476.3" r="8.8" fill="#4d86bd" stroke="#111" stroke-width="1.4"/>
<circle cx="266.1" cy="323.2" r="8.8" fill="#e8261f" stroke="#111" stroke-width="1.4"/>
<circle cx="274.3" cy="350.5" r="8.8" fill="#e8261f" stroke="#111" stroke-width="1.4"/>
<circle cx="276.3" cy="342.5" r="8.8" fill="#e8261f" stroke="#111" stroke-width="1.4"/>
<circle cx="215.7" cy="366.5" r="8.8" fill="#e8261f" stroke="#111" stroke-width="1.4"/>
<circle cx="190" cy="387.8" r="8.8" fill="#e8261f" stroke="#111" stroke-width="1.4"/>
<circle cx="250.2" cy="390.5" r="8.8" fill="#e8261f" stroke="#111" stroke-width="1.4"/>
<circle cx="195.3" cy="411" r="8.8" fill="#e8261f" stroke="#111" stroke-width="1.4"/>
<circle cx="228.5" cy="416.2" r="8.8" fill="#e8261f" stroke="#111" stroke-width="1.4"/>
<circle cx="265" cy="413.5" r="8.8" fill="#e8261f" stroke="#111" stroke-width="1.4"/>
<circle cx="258.5" cy="413.2" r="8.8" fill="#e8261f" stroke="#111" stroke-width="1.4"/>
<circle cx="198" cy="429.2" r="8.8" fill="#e8261f" stroke="#111" stroke-width="1.4"/>
<circle cx="211.5" cy="464.5" r="8.8" fill="#e8261f" stroke="#111" stroke-width="1.4"/>
<circle cx="317.5" cy="439.3" r="8.8" fill="#a65a2e" stroke="#111" stroke-width="1.4"/>
<circle cx="184" cy="337.5" r="8.8" fill="#9150ab" stroke="#111" stroke-width="1.4"/>
<circle cx="327.1" cy="371.5" r="8.8" fill="#9150ab" stroke="#111" stroke-width="1.4"/>
<circle cx="177.5" cy="476" r="8.8" fill="#9150ab" stroke="#111" stroke-width="1.4"/>
<circle cx="585.6" cy="189.0" r="8.6" fill="#e8261f" stroke="#111" stroke-width="1.3"/>
<text x="610.5" y="196.9" font-size="22.6" font-family="'Liberation Sans', Arial, Helvetica, sans-serif">SMARCA1_M</text>
<circle cx="585.6" cy="220.7" r="8.6" fill="#f0822a" stroke="#111" stroke-width="1.3"/>
<text x="610.5" y="228.6" font-size="22.6" font-family="'Liberation Sans', Arial, Helvetica, sans-serif">SMARCA1_F</text>
<circle cx="585.6" cy="252.4" r="8.6" fill="#9150ab" stroke="#111" stroke-width="1.3"/>
<text x="610.5" y="260.3" font-size="22.6" font-family="'Liberation Sans', Arial, Helvetica, sans-serif">SMARCA1_M_rep (testing)</text>
<circle cx="585.6" cy="284.1" r="8.6" fill="#f286cf" stroke="#111" stroke-width="1.3"/>
<text x="610.5" y="292.0" font-size="22.6" font-family="'Liberation Sans', Arial, Helvetica, sans-serif">SMARCA1_F_rep (testing)</text>
<circle cx="585.6" cy="315.8" r="8.6" fill="#a65a2e" stroke="#111" stroke-width="1.3"/>
<text x="610.5" y="323.7" font-size="22.6" font-family="'Liberation Sans', Arial, Helvetica, sans-serif">SMARCA1_M (testing)</text>
<circle cx="585.6" cy="347.5" r="8.6" fill="#4d86bd" stroke="#111" stroke-width="1.3"/>
<text x="610.5" y="355.4" font-size="22.6" font-family="'Liberation Sans', Arial, Helvetica, sans-serif">Control (training)</text>
<rect x="970.00" y="192.4" width="12.63" height="22.099999999999994" fill="#9150ab"/>
<rect x="982.33" y="192.4" width="12.63" height="22.099999999999994" fill="#e8261f"/>
<rect x="994.67" y="192.4" width="12.63" height="22.099999999999994" fill="#9150ab"/>
<rect x="1007.00" y="192.4" width="12.63" height="22.099999999999994" fill="#e8261f"/>
<rect x="1019.34" y="192.4" width="12.63" height="22.099999999999994" fill="#f286cf"/>
<rect x="1031.67" y="192.4" width="24.97" height="22.099999999999994" fill="#f0822a"/>
<rect x="1056.34" y="192.4" width="12.63" height="22.099999999999994" fill="#f286cf"/>
<rect x="1068.68" y="192.4" width="12.63" height="22.099999999999994" fill="#e8261f"/>
<rect x="1081.01" y="192.4" width="37.30" height="22.099999999999994" fill="#f0822a"/>
<rect x="1118.02" y="192.4" width="37.30" height="22.099999999999994" fill="#e8261f"/>
<rect x="1155.02" y="192.4" width="12.63" height="22.099999999999994" fill="#f0822a"/>
<rect x="1167.36" y="192.4" width="12.63" height="22.099999999999994" fill="#f286cf"/>
<rect x="1179.69" y="192.4" width="12.63" height="22.099999999999994" fill="#e8261f"/>
<rect x="1192.03" y="192.4" width="12.63" height="22.099999999999994" fill="#f0822a"/>
<rect x="1204.36" y="192.4" width="49.64" height="22.099999999999994" fill="#e8261f"/>
<rect x="1253.70" y="192.4" width="395.02" height="22.099999999999994" fill="#4d86bd"/>
<rect x="1648.42" y="192.4" width="12.63" height="22.099999999999994" fill="#e8261f"/>
<rect x="1660.76" y="192.4" width="12.63" height="22.099999999999994" fill="#9150ab"/>
<rect x="1673.09" y="192.4" width="259.33" height="22.099999999999994" fill="#4d86bd"/>
<rect x="1932.13" y="192.4" width="12.63" height="22.099999999999994" fill="#a65a2e"/>
<rect x="1944.46" y="192.4" width="49.64" height="22.099999999999994" fill="#4d86bd"/>
<path d="M976.2 186.0V178.3H988.5V186.0M1000.8 186.0V174.2H1013.2V186.0M982.3 178.3V168.0H1007.0V174.2M1025.5 186.0V171.7H1037.8V186.0M1050.2 186.0V174.6H1062.5V186.0M1031.7 171.7V167.0H1056.3V174.6M994.7 168.0V157.0H1044.0V167.0M1074.8 186.0V172.3H1087.2V186.0M1111.9 186.0V172.2H1124.2V186.0M1099.5 186.0V171.4H1118.0V172.2M1081.0 172.3V170.7H1108.8V171.4M1173.5 186.0V176.0H1185.9V186.0M1161.2 186.0V171.2H1179.7V176.0M1148.9 186.0V170.6H1170.4V171.2M1198.2 186.0V178.5H1210.5V186.0M1204.4 178.5V171.2H1222.9V186.0M1235.2 186.0V176.9H1247.5V186.0M1213.6 171.2V170.5H1241.4V176.9M1159.6 170.6V169.8H1227.5V170.5M1136.5 186.0V167.5H1193.6V169.8M1094.9 170.7V165.0H1165.0V167.5M1019.3 157.0V155.0H1130.0V165.0M1259.9 186.0V173.5H1272.2V186.0M1296.9 186.0V172.5H1309.2V186.0M1284.5 186.0V169.6H1303.0V172.5M1293.8 169.6V168.2H1321.5V186.0M1266.0 173.5V166.0H1307.7V168.2M1370.9 186.0V176.8H1383.2V186.0M1358.6 186.0V171.8H1377.1V176.8M1346.2 186.0V171.2H1367.8V171.8M1333.9 186.0V170.5H1357.0V171.2M1407.9 186.0V171.2H1420.2V186.0M1395.6 186.0V167.5H1414.1V171.2M1345.4 170.5V166.0H1404.8V167.5M1286.9 166.0V163.0H1375.1V166.0M1432.6 186.0V161.0H1444.9V186.0M1457.2 186.0V173.2H1469.6V186.0M1481.9 186.0V171.7H1494.2V186.0M1488.1 171.7V165.8H1506.6V186.0M1463.4 173.2V164.9H1497.3V165.8M1543.6 186.0V171.7H1555.9V186.0M1531.2 186.0V170.9H1549.7V171.7M1568.2 186.0V172.9H1580.6V186.0M1592.9 186.0V171.7H1605.2V186.0M1599.1 171.7V170.9H1617.6V186.0M1574.4 172.9V170.3H1608.3V170.9M1540.5 170.9V169.2H1591.4V170.3M1518.9 186.0V166.3H1565.9V169.2M1480.4 164.9V163.0H1542.4V166.3M1438.7 161.0V159.0H1511.4V163.0M1629.9 186.0V175.0H1642.3V186.0M1654.6 186.0V176.5H1666.9V186.0M1660.8 176.5V169.9H1679.3V186.0M1691.6 186.0V176.8H1703.9V186.0M1697.8 176.8V170.1H1716.3V186.0M1707.0 170.1V169.0H1728.6V186.0M1670.0 169.9V168.0H1717.8V169.0M1636.1 175.0V164.4H1693.9V168.0M1740.9 186.0V174.3H1753.3V186.0M1765.6 186.0V174.1H1777.9V186.0M1771.8 174.1V170.4H1790.3V186.0M1747.1 174.3V166.0H1781.0V170.4M1827.3 186.0V177.4H1839.6V186.0M1851.9 186.0V174.6H1864.3V186.0M1833.4 177.4V172.5H1858.1V174.6M1814.9 186.0V171.9H1845.8V172.5M1889.0 186.0V176.1H1901.3V186.0M1895.1 176.1V173.1H1913.6V186.0M1926.0 186.0V174.0H1938.3V186.0M1904.4 173.1V172.5H1932.1V174.0M1876.6 186.0V171.9H1918.2V172.5M1830.4 171.9V171.2H1897.4V171.9M1975.3 186.0V174.5H1987.6V186.0M1963.0 186.0V171.8H1981.5V174.5M1950.6 186.0V171.2H1972.2V171.8M1863.9 171.2V170.5H1961.4V171.2M1802.6 186.0V169.1H1912.7V170.5M1764.1 166.0V165.3H1857.6V169.1M1665.0 164.4V160.0H1810.8V165.3M1475.1 159.0V150.6H1737.9V160.0M1331.0 163.0V110.0H1606.5V150.6M1074.7 155.0V26.0H1468.7V110.0" fill="none" stroke="#000" stroke-width="1.4"/>
<rect x="1576" y="96" width="96" height="21.5" fill="#fff"/>
<defs><linearGradient id="gA" x1="0" x2="1" y1="0" y2="0"><stop offset="0" stop-color="#0000ff"/><stop offset="0.5" stop-color="#ffffff"/><stop offset="1" stop-color="#ff0000"/></linearGradient></defs>
<rect x="1513.5" y="27.5" width="220.5" height="22.5" fill="url(#gA)" stroke="#000" stroke-width="1.2"/>
<path d="M1548.6 50v10" stroke="#000" stroke-width="1.2"/>
<text x="1548.6" y="86.6" font-size="18" text-anchor="middle" font-family="'Liberation Sans', Arial, Helvetica, sans-serif">0.2</text>
<path d="M1595 50v10" stroke="#000" stroke-width="1.2"/>
<text x="1595" y="86.6" font-size="18" text-anchor="middle" font-family="'Liberation Sans', Arial, Helvetica, sans-serif">0.4</text>
<path d="M1641.4 50v10" stroke="#000" stroke-width="1.2"/>
<text x="1641.4" y="86.6" font-size="18" text-anchor="middle" font-family="'Liberation Sans', Arial, Helvetica, sans-serif">0.6</text>
<path d="M1688.2 50v10" stroke="#000" stroke-width="1.2"/>
<text x="1688.2" y="86.6" font-size="18" text-anchor="middle" font-family="'Liberation Sans', Arial, Helvetica, sans-serif">0.8</text>
<text x="1623.7" y="113" font-size="17.2" text-anchor="middle" font-family="'Liberation Sans', Arial, Helvetica, sans-serif">Methylation</text>
<rect x="1749.6" y="27.299999999999997" width="12.4" height="10.2" fill="#e8261f" stroke="#111" stroke-width="1.3"/>
<text x="1777.4" y="39.9" font-size="17.8" font-family="'Liberation Sans', Arial, Helvetica, sans-serif">SMARCA1_M</text>
<rect x="1749.6" y="48.48" width="12.4" height="10.2" fill="#f0822a" stroke="#111" stroke-width="1.3"/>
<text x="1777.4" y="61.08" font-size="17.8" font-family="'Liberation Sans', Arial, Helvetica, sans-serif">SMARCA1_F</text>
<rect x="1749.6" y="69.66" width="12.4" height="10.2" fill="#4d86bd" stroke="#111" stroke-width="1.3"/>
<text x="1777.4" y="82.25999999999999" font-size="17.8" font-family="'Liberation Sans', Arial, Helvetica, sans-serif">Control (training)</text>
<rect x="1749.6" y="90.84" width="12.4" height="10.2" fill="#9150ab" stroke="#111" stroke-width="1.3"/>
<text x="1777.4" y="103.44" font-size="17.8" font-family="'Liberation Sans', Arial, Helvetica, sans-serif">SMARCA1_M_rep (testing)</text>
<rect x="1749.6" y="112.02000000000001" width="12.4" height="10.2" fill="#f286cf" stroke="#111" stroke-width="1.3"/>
<text x="1777.4" y="124.62" font-size="17.8" font-family="'Liberation Sans', Arial, Helvetica, sans-serif">SMARCA1_F_rep (testing)</text>
<rect x="1749.6" y="133.20000000000002" width="12.4" height="10.2" fill="#a65a2e" stroke="#111" stroke-width="1.3"/>
<text x="1777.4" y="145.8" font-size="17.8" font-family="'Liberation Sans', Arial, Helvetica, sans-serif">SMARCA1_M (testing)</text>
<text transform="translate(3.0 642.8) scale(0.93 1)" font-size="47" font-family="'Liberation Sans', Arial, Helvetica, sans-serif">B.</text>
<path d="M173.4 634.3V1103.6H564.2" fill="none" stroke="#000" stroke-width="1.6"/>
<path d="M208.3 1103.6v4.2" stroke="#000" stroke-width="1.5"/>
<text x="208.3" y="1127.3999999999999" font-size="22.2" text-anchor="middle" font-family="'Liberation Sans', Arial, Helvetica, sans-serif">-1.0</text>
<path d="M286.6 1103.6v4.2" stroke="#000" stroke-width="1.5"/>
<text x="286.6" y="1127.3999999999999" font-size="22.2" text-anchor="middle" font-family="'Liberation Sans', Arial, Helvetica, sans-serif">-0.5</text>
<path d="M365.8 1103.6v4.2" stroke="#000" stroke-width="1.5"/>
<text x="365.8" y="1127.3999999999999" font-size="22.2" text-anchor="middle" font-family="'Liberation Sans', Arial, Helvetica, sans-serif">0.0</text>
<path d="M444.5 1103.6v4.2" stroke="#000" stroke-width="1.5"/>
<text x="444.5" y="1127.3999999999999" font-size="22.2" text-anchor="middle" font-family="'Liberation Sans', Arial, Helvetica, sans-serif">0.5</text>
<path d="M523.3 1103.6v4.2" stroke="#000" stroke-width="1.5"/>
<text x="523.3" y="1127.3999999999999" font-size="22.2" text-anchor="middle" font-family="'Liberation Sans', Arial, Helvetica, sans-serif">1.0</text>
<path d="M173.4 739.6h-4.2" stroke="#000" stroke-width="1.5"/>
<text x="165.1" y="747.5" font-size="22.2" text-anchor="end" font-family="'Liberation Sans', Arial, Helvetica, sans-serif">0.25</text>
<path d="M173.4 849h-4.2" stroke="#000" stroke-width="1.5"/>
<text x="165.1" y="856.9" font-size="22.2" text-anchor="end" font-family="'Liberation Sans', Arial, Helvetica, sans-serif">0.00</text>
<path d="M173.4 958.8h-4.2" stroke="#000" stroke-width="1.5"/>
<text x="165.1" y="966.6999999999999" font-size="22.2" text-anchor="end" font-family="'Liberation Sans', Arial, Helvetica, sans-serif">-0.25</text>
<path d="M173.4 1068.3h-4.2" stroke="#000" stroke-width="1.5"/>
<text x="165.1" y="1076.2" font-size="22.2" text-anchor="end" font-family="'Liberation Sans', Arial, Helvetica, sans-serif">-0.50</text>
<text x="368.1" y="1155.3" font-size="25.3" text-anchor="middle" font-family="'Liberation Sans', Arial, Helvetica, sans-serif">Coordinate 1</text>
<text transform="translate(105.2 867.6) rotate(-90)" font-size="25.3" text-anchor="middle" font-family="'Liberation Sans', Arial, Helvetica, sans-serif">Coordinate 2</text>
<circle cx="278.4" cy="799.4" r="8.8" fill="#e8261f" stroke="#111" stroke-width="1.4"/>
<circle cx="244.3" cy="794.5" r="8.8" fill="#e8261f" stroke="#111" stroke-width="1.4"/>
<circle cx="224.9" cy="891.2" r="8.8" fill="#e8261f" stroke="#111" stroke-width="1.4"/>
<circle cx="303.8" cy="893.4" r="8.8" fill="#e8261f" stroke="#111" stroke-width="1.4"/>
<circle cx="260.8" cy="921.5" r="8.8" fill="#e8261f" stroke="#111" stroke-width="1.4"/>
<circle cx="252.5" cy="930.9" r="8.8" fill="#e8261f" stroke="#111" stroke-width="1.4"/>
<circle cx="220.1" cy="971" r="8.8" fill="#e8261f" stroke="#111" stroke-width="1.4"/>
<circle cx="222.6" cy="963.7" r="8.8" fill="#e8261f" stroke="#111" stroke-width="1.4"/>
<circle cx="206.7" cy="974.6" r="8.8" fill="#e8261f" stroke="#111" stroke-width="1.4"/>
<circle cx="283.1" cy="976.3" r="8.8" fill="#e8261f" stroke="#111" stroke-width="1.4"/>
<circle cx="278.3" cy="993.5" r="8.8" fill="#e8261f" stroke="#111" stroke-width="1.4"/>
<circle cx="261.6" cy="1000" r="8.8" fill="#e8261f" stroke="#111" stroke-width="1.4"/>
<circle cx="305.5" cy="673.2" r="8.8" fill="#f0822a" stroke="#111" stroke-width="1.4"/>
<circle cx="311.3" cy="667.7" r="8.8" fill="#f0822a" stroke="#111" stroke-width="1.4"/>
<circle cx="316.3" cy="655.0" r="8.8" fill="#f0822a" stroke="#111" stroke-width="1.4"/>
<circle cx="377.8" cy="667.3" r="8.8" fill="#f0822a" stroke="#111" stroke-width="1.4"/>
<circle cx="340" cy="717.8" r="8.8" fill="#f0822a" stroke="#111" stroke-width="1.4"/>
<circle cx="344.5" cy="785.0" r="8.8" fill="#f0822a" stroke="#111" stroke-width="1.4"/>
<circle cx="286.2" cy="787.7" r="8.8" fill="#f0822a" stroke="#111" stroke-width="1.4"/>
<circle cx="351.9" cy="695.0" r="8.8" fill="#4d86bd" stroke="#111" stroke-width="1.4"/>
<circle cx="460.9" cy="672.6" r="8.8" fill="#4d86bd" stroke="#111" stroke-width="1.4"/>
<circle cx="379.5" cy="730.5" r="8.8" fill="#4d86bd" stroke="#111" stroke-width="1.4"/>
<circle cx="374.0" cy="749.3" r="8.8" fill="#4d86bd" stroke="#111" stroke-width="1.4"/>
<circle cx="375.0" cy="741.7" r="8.8" fill="#4d86bd" stroke="#111" stroke-width="1.4"/>
<circle cx="398.4" cy="753.9" r="8.8" fill="#4d86bd" stroke="#111" stroke-width="1.4"/>
<circle cx="326.7" cy="753.0" r="8.8" fill="#4d86bd" stroke="#111" stroke-width="1.4"/>
<circle cx="326.2" cy="765.0" r="8.8" fill="#4d86bd" stroke="#111" stroke-width="1.4"/>
<circle cx="317.6" cy="778.5" r="8.8" fill="#4d86bd" stroke="#111" stroke-width="1.4"/>
<circle cx="335.5" cy="782.6" r="8.8" fill="#4d86bd" stroke="#111" stroke-width="1.4"/>
<circle cx="443.0" cy="785.0" r="8.8" fill="#4d86bd" stroke="#111" stroke-width="1.4"/>
<circle cx="454.3" cy="788.4" r="8.8" fill="#4d86bd" stroke="#111" stroke-width="1.4"/>
<circle cx="536.7" cy="781.5" r="8.8" fill="#4d86bd" stroke="#111" stroke-width="1.4"/>
<circle cx="405.3" cy="794.6" r="8.8" fill="#4d86bd" stroke="#111" stroke-width="1.4"/>
<circle cx="485.9" cy="804.6" r="8.8" fill="#4d86bd" stroke="#111" stroke-width="1.4"/>
<circle cx="368.0" cy="801.0" r="8.8" fill="#4d86bd" stroke="#111" stroke-width="1.4"/>
<circle cx="366.5" cy="811.8" r="8.8" fill="#4d86bd" stroke="#111" stroke-width="1.4"/>
<circle cx="383.4" cy="812.0" r="8.8" fill="#4d86bd" stroke="#111" stroke-width="1.4"/>
<circle cx="350.8" cy="825.0" r="8.8" fill="#4d86bd" stroke="#111" stroke-width="1.4"/>
<circle cx="384.0" cy="834.0" r="8.8" fill="#4d86bd" stroke="#111" stroke-width="1.4"/>
<circle cx="382.3" cy="824.1" r="8.8" fill="#4d86bd" stroke="#111" stroke-width="1.4"/>
<circle cx="367.2" cy="829.0" r="8.8" fill="#4d86bd" stroke="#111" stroke-width="1.4"/>
<circle cx="401.5" cy="829.3" r="8.8" fill="#4d86bd" stroke="#111" stroke-width="1.4"/>
<circle cx="449.4" cy="840.6" r="8.8" fill="#4d86bd" stroke="#111" stroke-width="1.4"/>
<circle cx="484.0" cy="840.6" r="8.8" fill="#4d86bd" stroke="#111" stroke-width="1.4"/>
<circle cx="547.2" cy="831.0" r="8.8" fill="#4d86bd" stroke="#111" stroke-width="1.4"/>
<circle cx="542.7" cy="838.8" r="8.8" fill="#4d86bd" stroke="#111" stroke-width="1.4"/>
<circle cx="527.8" cy="848.4" r="8.8" fill="#4d86bd" stroke="#111" stroke-width="1.4"/>
<circle cx="358.1" cy="846.3" r="8.8" fill="#4d86bd" stroke="#111" stroke-width="1.4"/>
<circle cx="369.3" cy="846.0" r="8.8" fill="#4d86bd" stroke="#111" stroke-width="1.4"/>
<circle cx="378.8" cy="850.1" r="8.8" fill="#4d86bd" stroke="#111" stroke-width="1.4"/>
<circle cx="388.9" cy="853.8" r="8.8" fill="#4d86bd" stroke="#111" stroke-width="1.4"/>
<circle cx="358.4" cy="856.5" r="8.8" fill="#4d86bd" stroke="#111" stroke-width="1.4"/>
<circle cx="349.2" cy="864.0" r="8.8" fill="#4d86bd" stroke="#111" stroke-width="1.4"/>
<circle cx="343.1" cy="860.8" r="8.8" fill="#4d86bd" stroke="#111" stroke-width="1.4"/>
<circle cx="398.6" cy="863.2" r="8.8" fill="#4d86bd" stroke="#111" stroke-width="1.4"/>
<circle cx="402.2" cy="868.2" r="8.8" fill="#4d86bd" stroke="#111" stroke-width="1.4"/>
<circle cx="386.5" cy="869.6" r="8.8" fill="#4d86bd" stroke="#111" stroke-width="1.4"/>
<circle cx="397.5" cy="878.5" r="8.8" fill="#4d86bd" stroke="#111" stroke-width="1.4"/>
<circle cx="420.9" cy="868.2" r="8.8" fill="#4d86bd" stroke="#111" stroke-width="1.4"/>
<circle cx="440.3" cy="861.2" r="8.8" fill="#4d86bd" stroke="#111" stroke-width="1.4"/>
<circle cx="475.5" cy="854.8" r="8.8" fill="#4d86bd" stroke="#111" stroke-width="1.4"/>
<circle cx="481.6" cy="867.7" r="8.8" fill="#4d86bd" stroke="#111" stroke-width="1.4"/>
<circle cx="466.8" cy="874.9" r="8.8" fill="#4d86bd" stroke="#111" stroke-width="1.4"/>
<circle cx="367.3" cy="890.8" r="8.8" fill="#4d86bd" stroke="#111" stroke-width="1.4"/>
<circle cx="323.8" cy="905.5" r="8.8" fill="#4d86bd" stroke="#111" stroke-width="1.4"/>
<circle cx="364.3" cy="911.5" r="8.8" fill="#4d86bd" stroke="#111" stroke-width="1.4"/>
<circle cx="397.4" cy="916.0" r="8.8" fill="#4d86bd" stroke="#111" stroke-width="1.4"/>
<circle cx="425.8" cy="930.2" r="8.8" fill="#4d86bd" stroke="#111" stroke-width="1.4"/>
<circle cx="386.8" cy="953.8" r="8.8" fill="#4d86bd" stroke="#111" stroke-width="1.4"/>
<circle cx="362.3" cy="976.0" r="8.8" fill="#4d86bd" stroke="#111" stroke-width="1.4"/>
<circle cx="398.4" cy="976.1" r="8.8" fill="#4d86bd" stroke="#111" stroke-width="1.4"/>
<circle cx="388.5" cy="984.1" r="8.8" fill="#4d86bd" stroke="#111" stroke-width="1.4"/>
<circle cx="372.7" cy="991.8" r="8.8" fill="#4d86bd" stroke="#111" stroke-width="1.4"/>
<circle cx="392.2" cy="1010.4" r="8.8" fill="#4d86bd" stroke="#111" stroke-width="1.4"/>
<circle cx="487.2" cy="1012.4" r="8.8" fill="#4d86bd" stroke="#111" stroke-width="1.4"/>
<circle cx="389.7" cy="1065.0" r="8.8" fill="#4d86bd" stroke="#111" stroke-width="1.4"/>
<circle cx="404.9" cy="1067.7" r="8.8" fill="#4d86bd" stroke="#111" stroke-width="1.4"/>
<circle cx="373.2" cy="1082.3" r="8.8" fill="#4d86bd" stroke="#111" stroke-width="1.4"/>
<circle cx="316.3" cy="679.4" r="8.8" fill="#f286cf" stroke="#111" stroke-width="1.4"/>
<circle cx="259.9" cy="693.8" r="8.8" fill="#f286cf" stroke="#111" stroke-width="1.4"/>
<circle cx="315.3" cy="743.4" r="8.8" fill="#f286cf" stroke="#111" stroke-width="1.4"/>
<circle cx="360.2" cy="883.7" r="8.8" fill="#a65a2e" stroke="#111" stroke-width="1.4"/>
<circle cx="245.8" cy="737.3" r="8.8" fill="#9150ab" stroke="#111" stroke-width="1.4"/>
<circle cx="191" cy="746.5" r="8.8" fill="#9150ab" stroke="#111" stroke-width="1.4"/>
<circle cx="323.7" cy="1023.3" r="8.8" fill="#9150ab" stroke="#111" stroke-width="1.4"/>
<circle cx="604.7" cy="794.7" r="8.6" fill="#e8261f" stroke="#111" stroke-width="1.3"/>
<text x="629.6" y="802.6" font-size="22.6" font-family="'Liberation Sans', Arial, Helvetica, sans-serif">SMARCA1_M</text>
<circle cx="604.7" cy="826.4000000000001" r="8.6" fill="#9150ab" stroke="#111" stroke-width="1.3"/>
<text x="629.6" y="834.3000000000001" font-size="22.6" font-family="'Liberation Sans', Arial, Helvetica, sans-serif">SMARCA1_M_rep (testing)</text>
<circle cx="604.7" cy="858.1" r="8.6" fill="#f0822a" stroke="#111" stroke-width="1.3"/>
<text x="629.6" y="866.0" font-size="22.6" font-family="'Liberation Sans', Arial, Helvetica, sans-serif">SMARCA1_F (testing)</text>
<circle cx="604.7" cy="889.8000000000001" r="8.6" fill="#f286cf" stroke="#111" stroke-width="1.3"/>
<text x="629.6" y="897.7" font-size="22.6" font-family="'Liberation Sans', Arial, Helvetica, sans-serif">SMARCA1_F_rep (testing)</text>
<circle cx="604.7" cy="921.5" r="8.6" fill="#a65a2e" stroke="#111" stroke-width="1.3"/>
<text x="629.6" y="929.4" font-size="22.6" font-family="'Liberation Sans', Arial, Helvetica, sans-serif">SMARCA1_M (testing)</text>
<circle cx="604.7" cy="953.2" r="8.6" fill="#4d86bd" stroke="#111" stroke-width="1.3"/>
<text x="629.6" y="961.1" font-size="22.6" font-family="'Liberation Sans', Arial, Helvetica, sans-serif">Control (training)</text>
<rect x="968.10" y="798.2" width="12.21" height="21.799999999999955" fill="#9150ab"/>
<rect x="980.01" y="798.2" width="71.78" height="21.799999999999955" fill="#e8261f"/>
<rect x="1051.50" y="798.2" width="12.21" height="21.799999999999955" fill="#9150ab"/>
<rect x="1063.41" y="798.2" width="47.96" height="21.799999999999955" fill="#e8261f"/>
<rect x="1111.07" y="798.2" width="12.21" height="21.799999999999955" fill="#f286cf"/>
<rect x="1122.98" y="798.2" width="24.13" height="21.799999999999955" fill="#f0822a"/>
<rect x="1146.81" y="798.2" width="12.21" height="21.799999999999955" fill="#f286cf"/>
<rect x="1158.72" y="798.2" width="12.21" height="21.799999999999955" fill="#e8261f"/>
<rect x="1170.64" y="798.2" width="12.21" height="21.799999999999955" fill="#9150ab"/>
<rect x="1182.55" y="798.2" width="12.21" height="21.799999999999955" fill="#f0822a"/>
<rect x="1194.47" y="798.2" width="12.21" height="21.799999999999955" fill="#f286cf"/>
<rect x="1206.38" y="798.2" width="24.13" height="21.799999999999955" fill="#f0822a"/>
<rect x="1230.21" y="798.2" width="36.04" height="21.799999999999955" fill="#4d86bd"/>
<rect x="1265.95" y="798.2" width="12.21" height="21.799999999999955" fill="#e8261f"/>
<rect x="1277.86" y="798.2" width="12.21" height="21.799999999999955" fill="#f0822a"/>
<rect x="1289.78" y="798.2" width="453.03" height="21.799999999999955" fill="#4d86bd"/>
<rect x="1742.51" y="798.2" width="12.21" height="21.799999999999955" fill="#a65a2e"/>
<rect x="1754.42" y="798.2" width="71.78" height="21.799999999999955" fill="#4d86bd"/>
<rect x="1825.90" y="798.2" width="12.21" height="21.799999999999955" fill="#f0822a"/>
<rect x="1837.82" y="798.2" width="155.18" height="21.799999999999955" fill="#4d86bd"/>
<path d="M997.9 791.4V782.6H1009.8V791.4M986.0 791.4V775.7H1003.8V782.6M994.9 775.7V773.0H1021.7V791.4M1057.5 791.4V783.0H1069.4V791.4M1063.4 783.0V775.7H1081.3V791.4M1045.5 791.4V775.1H1072.3V775.7M1093.2 791.4V777.0H1105.1V791.4M1058.9 775.1V774.4H1099.2V777.0M1033.6 791.4V773.6H1079.0V774.4M1008.3 773.0V768.0H1056.3V773.6M974.1 791.4V766.7H1032.3V768.0M1117.0 791.4V776.3H1128.9V791.4M1140.9 791.4V781.4H1152.8V791.4M1123.0 776.3V767.4H1146.8V781.4M1164.7 791.4V781.4H1176.6V791.4M1188.5 791.4V784.5H1200.4V791.4M1224.2 791.4V778.1H1236.2V791.4M1230.2 778.1V776.2H1248.1V791.4M1212.3 791.4V772.4H1239.1V776.2M1260.0 791.4V779.1H1271.9V791.4M1283.8 791.4V776.6H1295.7V791.4M1319.6 791.4V778.1H1331.5V791.4M1307.6 791.4V776.0H1325.5V778.1M1289.8 776.6V775.4H1316.6V776.0M1265.9 779.1V769.8H1303.2V775.4M1225.7 772.4V769.0H1284.6V769.8M1194.5 784.5V766.7H1255.2V769.0M1170.6 781.4V761.4H1224.8V766.7M1134.9 767.4V752.7H1197.7V761.4M1003.2 766.7V735.9H1166.3V752.7M1379.1 791.4V783.5H1391.0V791.4M1403.0 791.4V778.1H1414.9V791.4M1385.1 783.5V775.9H1408.9V778.1M1367.2 791.4V775.2H1397.0V775.9M1382.1 775.2V774.0H1426.8V791.4M1462.5 791.4V782.5H1474.4V791.4M1450.6 791.4V776.2H1468.5V782.5M1438.7 791.4V773.2H1459.6V776.2M1404.4 774.0V771.6H1449.1V773.2M1355.3 791.4V770.4H1426.8V771.6M1343.4 791.4V765.5H1391.0V770.4M1486.4 791.4V781.6H1498.3V791.4M1510.2 791.4V779.0H1522.1V791.4M1545.9 791.4V775.1H1557.8V791.4M1534.0 791.4V771.2H1551.9V775.1M1516.1 779.0V765.2H1542.9V771.2M1492.3 781.6V759.5H1529.5V765.2M1581.7 791.4V782.1H1593.6V791.4M1587.6 782.1V772.6H1605.5V791.4M1569.8 791.4V771.3H1596.6V772.6M1583.2 771.3V769.4H1617.4V791.4M1641.2 791.4V775.9H1653.2V791.4M1629.3 791.4V771.7H1647.2V775.9M1665.1 791.4V781.2H1677.0V791.4M1671.0 781.2V774.4H1688.9V791.4M1700.8 791.4V783.6H1712.7V791.4M1724.6 791.4V783.7H1736.5V791.4M1730.6 783.7V776.1H1748.5V791.4M1706.8 783.6V775.5H1739.5V776.1M1680.0 774.4V772.6H1723.1V775.5M1638.3 771.7V766.4H1701.6V772.6M1600.3 769.4V763.4H1669.9V766.4M1760.4 791.4V782.8H1772.3V791.4M1808.0 791.4V777.3H1819.9V791.4M1814.0 777.3V776.5H1831.9V791.4M1796.1 791.4V775.8H1822.9V776.5M1784.2 791.4V771.8H1809.5V775.8M1766.3 782.8V770.1H1796.9V771.8M1843.8 791.4V779.0H1855.7V791.4M1867.6 791.4V783.1H1879.5V791.4M1849.7 779.0V773.9H1873.6V783.1M1903.3 791.4V781.8H1915.3V791.4M1927.2 791.4V777.7H1939.1V791.4M1933.1 777.7V776.9H1951.0V791.4M1909.3 781.8V776.3H1942.1V776.9M1925.7 776.3V774.7H1962.9V791.4M1891.4 791.4V773.2H1944.3V774.7M1917.9 773.2V772.3H1974.8V791.4M1946.3 772.3V771.6H1986.7V791.4M1861.6 773.9V770.8H1966.5V771.6M1781.6 770.1V766.0H1914.1V770.8M1635.1 763.4V758.2H1847.8V766.0M1510.9 759.5V752.7H1741.5V758.2M1367.2 765.5V711.4H1626.2V752.7M1084.7 735.9V631.6H1496.7V711.4" fill="none" stroke="#000" stroke-width="1.4"/>
<rect x="1583" y="698" width="98" height="27" fill="#fff"/>
<defs><linearGradient id="gB" x1="0" x2="1" y1="0" y2="0"><stop offset="0" stop-color="#0000ff"/><stop offset="0.5" stop-color="#ffffff"/><stop offset="1" stop-color="#ff0000"/></linearGradient></defs>
<rect x="1520.8" y="632.6" width="220.5" height="22.100000000000023" fill="url(#gB)" stroke="#000" stroke-width="1.2"/>
<path d="M1563.2 654.7v10" stroke="#000" stroke-width="1.2"/>
<text x="1563.2" y="690.2" font-size="18" text-anchor="middle" font-family="'Liberation Sans', Arial, Helvetica, sans-serif">0.2</text>
<path d="M1607.9 654.7v10" stroke="#000" stroke-width="1.2"/>
<text x="1607.9" y="690.2" font-size="18" text-anchor="middle" font-family="'Liberation Sans', Arial, Helvetica, sans-serif">0.4</text>
<path d="M1652.9 654.7v10" stroke="#000" stroke-width="1.2"/>
<text x="1652.9" y="690.2" font-size="18" text-anchor="middle" font-family="'Liberation Sans', Arial, Helvetica, sans-serif">0.6</text>
<path d="M1697.9 654.7v10" stroke="#000" stroke-width="1.2"/>
<text x="1697.9" y="690.2" font-size="18" text-anchor="middle" font-family="'Liberation Sans', Arial, Helvetica, sans-serif">0.8</text>
<text x="1631.1" y="716.2" font-size="17.2" text-anchor="middle" font-family="'Liberation Sans', Arial, Helvetica, sans-serif">Methylation</text>
<rect x="1753.6" y="634.3" width="12.4" height="10.2" fill="#e8261f" stroke="#111" stroke-width="1.3"/>
<text x="1782" y="646.9" font-size="17.8" font-family="'Liberation Sans', Arial, Helvetica, sans-serif">SMARCA1_M</text>
<rect x="1753.6" y="655.3" width="12.4" height="10.2" fill="#4d86bd" stroke="#111" stroke-width="1.3"/>
<text x="1782" y="667.9" font-size="17.8" font-family="'Liberation Sans', Arial, Helvetica, sans-serif">Control (training)</text>
<rect x="1753.6" y="676.3" width="12.4" height="10.2" fill="#f0822a" stroke="#111" stroke-width="1.3"/>
<text x="1782" y="688.9" font-size="17.8" font-family="'Liberation Sans', Arial, Helvetica, sans-serif">SMARCA1_F (testing)</text>
<rect x="1753.6" y="697.3" width="12.4" height="10.2" fill="#9150ab" stroke="#111" stroke-width="1.3"/>
<text x="1782" y="709.9" font-size="17.8" font-family="'Liberation Sans', Arial, Helvetica, sans-serif">SMARCA1_M_rep (testing)</text>
<rect x="1753.6" y="718.3" width="12.4" height="10.2" fill="#f286cf" stroke="#111" stroke-width="1.3"/>
<text x="1782" y="730.9" font-size="17.8" font-family="'Liberation Sans', Arial, Helvetica, sans-serif">SMARCA1_F_rep (testing)</text>
<rect x="1753.6" y="739.3" width="12.4" height="10.2" fill="#a65a2e" stroke="#111" stroke-width="1.3"/>
<text x="1782" y="751.9" font-size="17.8" font-family="'Liberation Sans', Arial, Helvetica, sans-serif">SMARCA1_M (testing)</text>
<text transform="translate(2.6 1246.8) scale(0.88 1)" font-size="47" font-family="'Liberation Sans', Arial, Helvetica, sans-serif">C.</text>
<path d="M142 1254.2V1726.4H545.4" fill="none" stroke="#000" stroke-width="1.6"/>
<path d="M189.6 1726.4v4.2" stroke="#000" stroke-width="1.5"/>
<text x="189.6" y="1750.2" font-size="22.2" text-anchor="middle" font-family="'Liberation Sans', Arial, Helvetica, sans-serif">-1.0</text>
<path d="M278.3 1726.4v4.2" stroke="#000" stroke-width="1.5"/>
<text x="278.3" y="1750.2" font-size="22.2" text-anchor="middle" font-family="'Liberation Sans', Arial, Helvetica, sans-serif">-0.5</text>
<path d="M367.5 1726.4v4.2" stroke="#000" stroke-width="1.5"/>
<text x="367.5" y="1750.2" font-size="22.2" text-anchor="middle" font-family="'Liberation Sans', Arial, Helvetica, sans-serif">0.0</text>
<path d="M456.6 1726.4v4.2" stroke="#000" stroke-width="1.5"/>
<text x="456.6" y="1750.2" font-size="22.2" text-anchor="middle" font-family="'Liberation Sans', Arial, Helvetica, sans-serif">0.5</text>
<path d="M142 1269.1h-4.2" stroke="#000" stroke-width="1.5"/>
<text x="133.7" y="1277.0" font-size="22.2" text-anchor="end" font-family="'Liberation Sans', Arial, Helvetica, sans-serif">0.8</text>
<path d="M142 1382.3h-4.2" stroke="#000" stroke-width="1.5"/>
<text x="133.7" y="1390.2" font-size="22.2" text-anchor="end" font-family="'Liberation Sans', Arial, Helvetica, sans-serif">0.4</text>
<path d="M142 1495.4h-4.2" stroke="#000" stroke-width="1.5"/>
<text x="133.7" y="1503.3000000000002" font-size="22.2" text-anchor="end" font-family="'Liberation Sans', Arial, Helvetica, sans-serif">0.0</text>
<path d="M142 1609.5h-4.2" stroke="#000" stroke-width="1.5"/>
<text x="133.7" y="1617.4" font-size="22.2" text-anchor="end" font-family="'Liberation Sans', Arial, Helvetica, sans-serif">-0.4</text>
<path d="M142 1723h-4.2" stroke="#000" stroke-width="1.5"/>
<text x="133.7" y="1730.9" font-size="22.2" text-anchor="end" font-family="'Liberation Sans', Arial, Helvetica, sans-serif">-0.8</text>
<text x="342.6" y="1778.3" font-size="25.3" text-anchor="middle" font-family="'Liberation Sans', Arial, Helvetica, sans-serif">Coordinate 1</text>
<text transform="translate(87.1 1489.1) rotate(-90)" font-size="25.3" text-anchor="middle" font-family="'Liberation Sans', Arial, Helvetica, sans-serif">Coordinate 2</text>
<circle cx="337.8" cy="1275.0" r="8.8" fill="#4d86bd" stroke="#111" stroke-width="1.4"/>
<circle cx="407.5" cy="1374.0" r="8.8" fill="#4d86bd" stroke="#111" stroke-width="1.4"/>
<circle cx="369.5" cy="1400.8" r="8.8" fill="#4d86bd" stroke="#111" stroke-width="1.4"/>
<circle cx="384.9" cy="1406.6" r="8.8" fill="#4d86bd" stroke="#111" stroke-width="1.4"/>
<circle cx="423.5" cy="1409.1" r="8.8" fill="#4d86bd" stroke="#111" stroke-width="1.4"/>
<circle cx="375.1" cy="1420.5" r="8.8" fill="#4d86bd" stroke="#111" stroke-width="1.4"/>
<circle cx="380.7" cy="1420.5" r="8.8" fill="#4d86bd" stroke="#111" stroke-width="1.4"/>
<circle cx="399.7" cy="1422.4" r="8.8" fill="#4d86bd" stroke="#111" stroke-width="1.4"/>
<circle cx="422.7" cy="1440.0" r="8.8" fill="#4d86bd" stroke="#111" stroke-width="1.4"/>
<circle cx="330.1" cy="1451.3" r="8.8" fill="#4d86bd" stroke="#111" stroke-width="1.4"/>
<circle cx="351.7" cy="1450.1" r="8.8" fill="#4d86bd" stroke="#111" stroke-width="1.4"/>
<circle cx="368.7" cy="1448.4" r="8.8" fill="#4d86bd" stroke="#111" stroke-width="1.4"/>
<circle cx="350.9" cy="1460.1" r="8.8" fill="#4d86bd" stroke="#111" stroke-width="1.4"/>
<circle cx="364.8" cy="1458.3" r="8.8" fill="#4d86bd" stroke="#111" stroke-width="1.4"/>
<circle cx="386.6" cy="1441.3" r="8.8" fill="#4d86bd" stroke="#111" stroke-width="1.4"/>
<circle cx="397.4" cy="1442.6" r="8.8" fill="#4d86bd" stroke="#111" stroke-width="1.4"/>
<circle cx="390.9" cy="1449.8" r="8.8" fill="#4d86bd" stroke="#111" stroke-width="1.4"/>
<circle cx="389.9" cy="1459.0" r="8.8" fill="#4d86bd" stroke="#111" stroke-width="1.4"/>
<circle cx="507.0" cy="1444.7" r="8.8" fill="#4d86bd" stroke="#111" stroke-width="1.4"/>
<circle cx="515.0" cy="1454.7" r="8.8" fill="#4d86bd" stroke="#111" stroke-width="1.4"/>
<circle cx="464.0" cy="1453.5" r="8.8" fill="#4d86bd" stroke="#111" stroke-width="1.4"/>
<circle cx="463.3" cy="1467.4" r="8.8" fill="#4d86bd" stroke="#111" stroke-width="1.4"/>
<circle cx="426.4" cy="1465.5" r="8.8" fill="#4d86bd" stroke="#111" stroke-width="1.4"/>
<circle cx="416.7" cy="1475.6" r="8.8" fill="#4d86bd" stroke="#111" stroke-width="1.4"/>
<circle cx="413.7" cy="1472.4" r="8.8" fill="#4d86bd" stroke="#111" stroke-width="1.4"/>
<circle cx="451.6" cy="1471.1" r="8.8" fill="#4d86bd" stroke="#111" stroke-width="1.4"/>
<circle cx="456.3" cy="1479.0" r="8.8" fill="#4d86bd" stroke="#111" stroke-width="1.4"/>
<circle cx="453.3" cy="1489.1" r="8.8" fill="#4d86bd" stroke="#111" stroke-width="1.4"/>
<circle cx="488.3" cy="1484.3" r="8.8" fill="#4d86bd" stroke="#111" stroke-width="1.4"/>
<circle cx="316.3" cy="1477.0" r="8.8" fill="#4d86bd" stroke="#111" stroke-width="1.4"/>
<circle cx="339.2" cy="1478.8" r="8.8" fill="#4d86bd" stroke="#111" stroke-width="1.4"/>
<circle cx="330.9" cy="1489.9" r="8.8" fill="#4d86bd" stroke="#111" stroke-width="1.4"/>
<circle cx="324.8" cy="1505.0" r="8.8" fill="#4d86bd" stroke="#111" stroke-width="1.4"/>
<circle cx="383.0" cy="1484.1" r="8.8" fill="#4d86bd" stroke="#111" stroke-width="1.4"/>
<circle cx="375.2" cy="1477.4" r="8.8" fill="#4d86bd" stroke="#111" stroke-width="1.4"/>
<circle cx="389.0" cy="1476.1" r="8.8" fill="#4d86bd" stroke="#111" stroke-width="1.4"/>
<circle cx="412.2" cy="1488.0" r="8.8" fill="#4d86bd" stroke="#111" stroke-width="1.4"/>
<circle cx="398.4" cy="1492.3" r="8.8" fill="#4d86bd" stroke="#111" stroke-width="1.4"/>
<circle cx="385.2" cy="1511.5" r="8.8" fill="#4d86bd" stroke="#111" stroke-width="1.4"/>
<circle cx="385.4" cy="1503.5" r="8.8" fill="#4d86bd" stroke="#111" stroke-width="1.4"/>
<circle cx="423.3" cy="1502.4" r="8.8" fill="#4d86bd" stroke="#111" stroke-width="1.4"/>
<circle cx="441.5" cy="1503.5" r="8.8" fill="#4d86bd" stroke="#111" stroke-width="1.4"/>
<circle cx="526.0" cy="1497.1" r="8.8" fill="#4d86bd" stroke="#111" stroke-width="1.4"/>
<circle cx="518.5" cy="1505.1" r="8.8" fill="#4d86bd" stroke="#111" stroke-width="1.4"/>
<circle cx="527.1" cy="1506.3" r="8.8" fill="#4d86bd" stroke="#111" stroke-width="1.4"/>
<circle cx="506.0" cy="1518.1" r="8.8" fill="#4d86bd" stroke="#111" stroke-width="1.4"/>
<circle cx="399.3" cy="1516.3" r="8.8" fill="#4d86bd" stroke="#111" stroke-width="1.4"/>
<circle cx="409.5" cy="1517.9" r="8.8" fill="#4d86bd" stroke="#111" stroke-width="1.4"/>
<circle cx="384.5" cy="1529.0" r="8.8" fill="#4d86bd" stroke="#111" stroke-width="1.4"/>
<circle cx="364.0" cy="1546.0" r="8.8" fill="#4d86bd" stroke="#111" stroke-width="1.4"/>
<circle cx="411.6" cy="1545.0" r="8.8" fill="#4d86bd" stroke="#111" stroke-width="1.4"/>
<circle cx="410.1" cy="1566.5" r="8.8" fill="#4d86bd" stroke="#111" stroke-width="1.4"/>
<circle cx="504.9" cy="1564.2" r="8.8" fill="#4d86bd" stroke="#111" stroke-width="1.4"/>
<circle cx="180.5" cy="1467.2" r="8.8" fill="#f286cf" stroke="#111" stroke-width="1.4"/>
<circle cx="198.4" cy="1466.4" r="8.8" fill="#f286cf" stroke="#111" stroke-width="1.4"/>
<circle cx="160.1" cy="1499.2" r="8.8" fill="#f286cf" stroke="#111" stroke-width="1.4"/>
<circle cx="160.7" cy="1446.4" r="8.8" fill="#f0822a" stroke="#111" stroke-width="1.4"/>
<circle cx="208.3" cy="1456.3" r="8.8" fill="#f0822a" stroke="#111" stroke-width="1.4"/>
<circle cx="194.3" cy="1456.5" r="8.8" fill="#f0822a" stroke="#111" stroke-width="1.4"/>
<circle cx="225.7" cy="1445.5" r="8.8" fill="#f0822a" stroke="#111" stroke-width="1.4"/>
<circle cx="179.2" cy="1498.3" r="8.8" fill="#f0822a" stroke="#111" stroke-width="1.4"/>
<circle cx="171.6" cy="1485.8" r="8.8" fill="#f0822a" stroke="#111" stroke-width="1.4"/>
<circle cx="212.2" cy="1484.4" r="8.8" fill="#f0822a" stroke="#111" stroke-width="1.4"/>
<circle cx="271.7" cy="1518.2" r="8.8" fill="#e8261f" stroke="#111" stroke-width="1.4"/>
<circle cx="305.1" cy="1538.9" r="8.8" fill="#e8261f" stroke="#111" stroke-width="1.4"/>
<circle cx="344.3" cy="1543.3" r="8.8" fill="#e8261f" stroke="#111" stroke-width="1.4"/>
<circle cx="357.0" cy="1548.0" r="8.8" fill="#e8261f" stroke="#111" stroke-width="1.4"/>
<circle cx="372.0" cy="1520.0" r="8.8" fill="#e8261f" stroke="#111" stroke-width="1.4"/>
<circle cx="328.5" cy="1571.2" r="8.8" fill="#e8261f" stroke="#111" stroke-width="1.4"/>
<circle cx="401.2" cy="1591.0" r="8.8" fill="#e8261f" stroke="#111" stroke-width="1.4"/>
<circle cx="384.3" cy="1614.4" r="8.8" fill="#e8261f" stroke="#111" stroke-width="1.4"/>
<circle cx="365.7" cy="1626.5" r="8.8" fill="#e8261f" stroke="#111" stroke-width="1.4"/>
<circle cx="276.5" cy="1631.2" r="8.8" fill="#e8261f" stroke="#111" stroke-width="1.4"/>
<circle cx="386.9" cy="1666.4" r="8.8" fill="#e8261f" stroke="#111" stroke-width="1.4"/>
<circle cx="327.0" cy="1683.5" r="8.8" fill="#e8261f" stroke="#111" stroke-width="1.4"/>
<circle cx="339.0" cy="1705.0" r="8.8" fill="#e8261f" stroke="#111" stroke-width="1.4"/>
<circle cx="226.7" cy="1530.6" r="8.8" fill="#9150ab" stroke="#111" stroke-width="1.4"/>
<circle cx="211.3" cy="1541.8" r="8.8" fill="#9150ab" stroke="#111" stroke-width="1.4"/>
<circle cx="451.4" cy="1669.7" r="8.8" fill="#9150ab" stroke="#111" stroke-width="1.4"/>
<circle cx="585.8" cy="1431.3" r="8.6" fill="#e8261f" stroke="#111" stroke-width="1.3"/>
<text x="610.6999999999999" y="1439.2" font-size="22.6" font-family="'Liberation Sans', Arial, Helvetica, sans-serif">SMARCA1_M (testing)</text>
<circle cx="585.8" cy="1463.05" r="8.6" fill="#f0822a" stroke="#111" stroke-width="1.3"/>
<text x="610.6999999999999" y="1470.95" font-size="22.6" font-family="'Liberation Sans', Arial, Helvetica, sans-serif">SMARCA1_F</text>
<circle cx="585.8" cy="1494.8" r="8.6" fill="#9150ab" stroke="#111" stroke-width="1.3"/>
<text x="610.6999999999999" y="1502.7" font-size="22.6" font-family="'Liberation Sans', Arial, Helvetica, sans-serif">SMARCA1_M_rep (testing)</text>
<circle cx="585.8" cy="1526.55" r="8.6" fill="#f286cf" stroke="#111" stroke-width="1.3"/>
<text x="610.6999999999999" y="1534.45" font-size="22.6" font-family="'Liberation Sans', Arial, Helvetica, sans-serif">SMARCA1_F_rep (testing)</text>
<circle cx="585.8" cy="1558.3" r="8.6" fill="#4d86bd" stroke="#111" stroke-width="1.3"/>
<text x="610.6999999999999" y="1566.2" font-size="22.6" font-family="'Liberation Sans', Arial, Helvetica, sans-serif">Control (training)</text>
<rect x="970.30" y="1419" width="25.24" height="22.09999999999991" fill="#9150ab"/>
<rect x="995.24" y="1419" width="12.77" height="22.09999999999991" fill="#e8261f"/>
<rect x="1007.70" y="1419" width="12.77" height="22.09999999999991" fill="#f286cf"/>
<rect x="1020.17" y="1419" width="25.24" height="22.09999999999991" fill="#f0822a"/>
<rect x="1045.11" y="1419" width="12.77" height="22.09999999999991" fill="#f286cf"/>
<rect x="1057.58" y="1419" width="12.77" height="22.09999999999991" fill="#f0822a"/>
<rect x="1070.05" y="1419" width="12.77" height="22.09999999999991" fill="#f286cf"/>
<rect x="1082.51" y="1419" width="50.17" height="22.09999999999991" fill="#f0822a"/>
<rect x="1132.39" y="1419" width="112.51" height="22.09999999999991" fill="#4d86bd"/>
<rect x="1244.60" y="1419" width="25.24" height="22.09999999999991" fill="#e8261f"/>
<rect x="1269.54" y="1419" width="87.58" height="22.09999999999991" fill="#4d86bd"/>
<rect x="1356.82" y="1419" width="12.77" height="22.09999999999991" fill="#e8261f"/>
<rect x="1369.29" y="1419" width="12.77" height="22.09999999999991" fill="#9150ab"/>
<rect x="1381.75" y="1419" width="100.05" height="22.09999999999991" fill="#e8261f"/>
<rect x="1481.50" y="1419" width="149.92" height="22.09999999999991" fill="#4d86bd"/>
<rect x="1631.12" y="1419" width="12.77" height="22.09999999999991" fill="#e8261f"/>
<rect x="1643.59" y="1419" width="349.41" height="22.09999999999991" fill="#4d86bd"/>
<path d="M989.0 1412.3V1402.0H1001.5V1412.3M976.5 1412.3V1389.3H995.2V1402.0M1013.9 1412.3V1402.0H1026.4V1412.3M1038.9 1412.3V1402.0H1051.3V1412.3M1020.2 1402.0V1393.9H1045.1V1402.0M1063.8 1412.3V1402.0H1076.3V1412.3M1113.7 1412.3V1401.0H1126.2V1412.3M1101.2 1412.3V1396.0H1119.9V1401.0M1088.7 1412.3V1395.0H1110.6V1396.0M1070.0 1402.0V1392.0H1099.7V1395.0M1032.6 1393.9V1385.3H1084.9V1392.0M985.9 1389.3V1377.2H1058.7V1385.3M1176.0 1412.3V1400.7H1188.5V1412.3M1182.3 1400.7V1396.7H1201.0V1412.3M1163.6 1412.3V1395.9H1191.6V1396.7M1213.4 1412.3V1402.5H1225.9V1412.3M1177.6 1395.9V1394.9H1219.7V1402.5M1151.1 1412.3V1394.0H1198.6V1394.9M1138.6 1412.3V1390.7H1174.9V1394.0M1263.3 1412.3V1404.8H1275.8V1412.3M1269.5 1404.8V1395.3H1288.2V1412.3M1313.2 1412.3V1404.8H1325.6V1412.3M1300.7 1412.3V1397.9H1319.4V1404.8M1310.1 1397.9V1397.2H1338.1V1412.3M1324.1 1397.2V1396.6H1350.6V1412.3M1278.9 1395.3V1394.4H1337.3V1396.6M1250.8 1412.3V1389.3H1308.1V1394.4M1238.4 1412.3V1381.2H1279.5V1389.3M1363.1 1412.3V1400.0H1375.5V1412.3M1388.0 1412.3V1397.7H1400.5V1412.3M1394.2 1397.7V1392.5H1412.9V1412.3M1425.4 1412.3V1397.8H1437.9V1412.3M1462.8 1412.3V1404.1H1475.3V1412.3M1450.3 1412.3V1394.8H1469.0V1404.1M1431.6 1397.8V1391.5H1459.7V1394.8M1403.6 1392.5V1390.0H1445.7V1391.5M1369.3 1400.0V1386.0H1424.6V1390.0M1258.9 1381.2V1377.2H1396.9V1386.0M1512.7 1412.3V1401.6H1525.1V1412.3M1500.2 1412.3V1395.4H1518.9V1401.6M1509.6 1395.4V1393.8H1537.6V1412.3M1562.5 1412.3V1404.1H1575.0V1412.3M1550.1 1412.3V1394.1H1568.8V1404.1M1599.9 1412.3V1399.7H1612.4V1412.3M1637.4 1412.3V1405.0H1649.8V1412.3M1624.9 1412.3V1398.3H1643.6V1405.0M1674.8 1412.3V1399.1H1687.2V1412.3M1662.3 1412.3V1398.3H1681.0V1399.1M1634.2 1398.3V1397.6H1671.6V1398.3M1606.2 1399.7V1396.9H1652.9V1397.6M1587.5 1412.3V1395.7H1629.6V1396.9M1559.4 1394.1V1392.0H1608.5V1395.7M1523.6 1393.8V1390.0H1584.0V1392.0M1712.2 1412.3V1398.7H1724.6V1412.3M1699.7 1412.3V1395.0H1718.4V1398.7M1749.6 1412.3V1398.7H1762.0V1412.3M1737.1 1412.3V1395.9H1755.8V1398.7M1746.5 1395.9V1393.0H1774.5V1412.3M1709.0 1395.0V1391.5H1760.5V1393.0M1799.4 1412.3V1400.1H1811.9V1412.3M1787.0 1412.3V1394.4H1805.7V1400.1M1824.4 1412.3V1397.4H1836.8V1412.3M1830.6 1397.4V1396.6H1849.3V1412.3M1796.3 1394.4V1393.8H1840.0V1396.6M1874.3 1412.3V1405.1H1886.7V1412.3M1911.7 1412.3V1399.8H1924.1V1412.3M1899.2 1412.3V1398.8H1917.9V1399.8M1908.5 1398.8V1398.2H1936.6V1412.3M1880.5 1405.1V1397.5H1922.6V1398.2M1861.8 1412.3V1396.8H1901.5V1397.5M1961.5 1412.3V1397.7H1974.0V1412.3M1949.1 1412.3V1396.9H1967.8V1397.7M1958.4 1396.9V1395.6H1986.5V1412.3M1881.7 1396.8V1394.9H1972.4V1395.6M1818.1 1393.8V1392.6H1927.0V1394.9M1734.8 1391.5V1389.0H1872.6V1392.6M1553.8 1390.0V1385.5H1803.7V1389.0M1487.7 1412.3V1382.9H1678.7V1385.5M1327.9 1377.2V1366.9H1583.2V1382.9M1156.7 1390.7V1346.9H1455.6V1366.9M1022.3 1377.2V1251.6H1306.2V1346.9" fill="none" stroke="#000" stroke-width="1.4"/>
<defs><linearGradient id="gC" x1="0" x2="1" y1="0" y2="0"><stop offset="0" stop-color="#0000ff"/><stop offset="0.5" stop-color="#ffffff"/><stop offset="1" stop-color="#ff0000"/></linearGradient></defs>
<rect x="1492.2" y="1259.9" width="220.5" height="22.09999999999991" fill="url(#gC)" stroke="#000" stroke-width="1.2"/>
<path d="M1536.7 1282v10" stroke="#000" stroke-width="1.2"/>
<text x="1536.7" y="1319.5" font-size="18" text-anchor="middle" font-family="'Liberation Sans', Arial, Helvetica, sans-serif">0.2</text>
<path d="M1580.9 1282v10" stroke="#000" stroke-width="1.2"/>
<text x="1580.9" y="1319.5" font-size="18" text-anchor="middle" font-family="'Liberation Sans', Arial, Helvetica, sans-serif">0.4</text>
<path d="M1625.1 1282v10" stroke="#000" stroke-width="1.2"/>
<text x="1625.1" y="1319.5" font-size="18" text-anchor="middle" font-family="'Liberation Sans', Arial, Helvetica, sans-serif">0.6</text>
<path d="M1669.8 1282v10" stroke="#000" stroke-width="1.2"/>
<text x="1669.8" y="1319.5" font-size="18" text-anchor="middle" font-family="'Liberation Sans', Arial, Helvetica, sans-serif">0.8</text>
<text x="1602.5" y="1344.3" font-size="17.2" text-anchor="middle" font-family="'Liberation Sans', Arial, Helvetica, sans-serif">Methylation</text>
<rect x="1737.5" y="1260.0" width="12.4" height="10.2" fill="#f0822a" stroke="#111" stroke-width="1.3"/>
<text x="1766" y="1272.6" font-size="17.8" font-family="'Liberation Sans', Arial, Helvetica, sans-serif">SMARCA1_F</text>
<rect x="1737.5" y="1281.1" width="12.4" height="10.2" fill="#4d86bd" stroke="#111" stroke-width="1.3"/>
<text x="1766" y="1293.6999999999998" font-size="17.8" font-family="'Liberation Sans', Arial, Helvetica, sans-serif">Control (training)</text>
<rect x="1737.5" y="1302.2" width="12.4" height="10.2" fill="#e8261f" stroke="#111" stroke-width="1.3"/>
<text x="1766" y="1314.8" font-size="17.8" font-family="'Liberation Sans', Arial, Helvetica, sans-serif">SMARCA1_M (testing)</text>
<rect x="1737.5" y="1323.3" width="12.4" height="10.2" fill="#9150ab" stroke="#111" stroke-width="1.3"/>
<text x="1766" y="1335.8999999999999" font-size="17.8" font-family="'Liberation Sans', Arial, Helvetica, sans-serif">SMARCA1_M_rep (testing)</text>
<rect x="1737.5" y="1344.4" width="12.4" height="10.2" fill="#f286cf" stroke="#111" stroke-width="1.3"/>
<text x="1766" y="1357.0" font-size="17.8" font-family="'Liberation Sans', Arial, Helvetica, sans-serif">SMARCA1_F_rep (testing)</text>
</svg></div>
<script>
(function(){
var B="ABCDEFGHIJKLMNOPQRSTUVWXYZabcdefghijklmnopqrstuvwxyz0123456789+/";
var H=[{"id":"hA","w":1023.8,"h":330.4,"nc":83,"nr":166,"d":"jjmpojlkmjlphkjgkmiinmktrqsowyttokqqtnlmhqmjnllknnmqnnmmknlolnpnplrmhlkkkkkmpmrmqqoefgdgekljkfifhgfeifhilkoprnslmikmmmsnmmkijjlgjihkjokkjjjgkiglnknkihlmnqjfohggfifkmkabdYWYcbgeegaacXcgaZhhfmghikhhhghhflfkicghfdcdabgefhghefafdbZggfeegdgbhffgbdedjeihfcZeebdbffZacdjebgidcdcfjihjjopkjkljnlpjlahiiokkijhjlfbgdhijgghkkgeiihiijfgefdiiffiiigmojmnmpnimgijijmkjnppxorqlnspnnsrnprroourtmnklppqrqpsponomooornlqmionspnokmjpososjjoogmljmnllknkkknmhjmouprqqutqqoooouwoppqtoqosqipomnjojpustknqjklkkqoqtrssqpjmlnnlhgfhhhpkhgcfeiihhjdikdflnpnmppnnkomonnmmlpqoqkmonolnjklnprppmqrnnnmpnmnrnkhhijlinnmhgjlihijjkmkjfgcfhfghhgolnpqqmmknpipprmjiqorokjmnmlnpmplhigjljllollolnpnnmnpkkklnijdhfkfjeiekdaccjegggcghimjlomqphnmmnnnojhglmkjeifjghfkejhgkfihjlmfhihigjihkkkgfignkkgdmhgijhlmjoefhflqjkmljnpssxtqnpqrrsosmmnonoidjilljmmmlqhkgjnrolglnlmlnnkpqlhjjlikneZjkgecgfbbecfcdhihgfebmjlmirnhilmknlhffimolghcieilgimkjgihjjjlijgjjhhfggggegiifihigfhmcgeefifgcabbelhjhjkphllknonmmtmprprghkklgjjgppjmjnmkkloihjkkplnklmnmgjflikmilhlikmlkmlokmjoikhkjlkerpknloprsqmnlmnoopnlgpmklljlinilhnmkgmjkkpqolljnnmkojlmmgeokommgehfmkjgkkklfimhhjgfljipoppsrtmomnsqpomlloqojmmjfljoknhfmoomgmjmlikkiijkloniffhjjhlmhjhkhlmkhijhkkfhledfhhllnmpppkjljlnkpjlfnmknmlmnmmoknpoijliiimjmnnnqlnnlonpimojopngjhmhnkklnjlnlnojklhmnknnmqnqpolrsorqronjuqsljnhpnmoknikillnknnmkkpmpnrmillkkiklqmmjbgefdgemfjlfgfffhcebfdooptonmjmmkmlsqilfilliiihmjmmimjmghhjeliihilijhgljiinfimihjfcWddfhhdgjefefccbdZacddrsoopumlrnqkrmngffehebdcbhfcjfgebdddgfffefhigfihgfhceadechggbaedaceabbbZXXbcfefbbbhpnpopoqimkklmjqlgdhliffefgkmkfeghhfhfgihkhgefgYddgkdhaefgejiifheefeehhdjdbfdhifffbdjihgorskillnonjnjjlhlhhfjgjhlkhfhlliiilkmjgmljinklnmhkgkhkijcffiedfgccegeieehlhidhknrqsspslrikjlpskjejdiddgeiiiingjikmhjimfiddehhigkdjhfhlggkfiifmhhlmkmlhnhjijipjphkjtqqsutsqqrqqqqtpmimlopkonqtuoqnkomoonilmnqqppoplqrurppmoqnnnccefddgihebfbfecZgbZgeglekjlkjljmljnjkheghkljgfhelfgkjjjiljhgikgiegimgkjhohifdhhillegmkgcjffdgehfdghjehjdhmornotpnlmmoononiiprmijiiklhlnjjmhjjkjnnmminljloljllohekinggaaebgddfdgbcYdgZdghbbbahgjhkonjljonjmnjghkinhffkjhkjijfhkhmjlmpofefiiifnljkkhikjmhjdfdbhfeigkdhdedaefgeagajknnptporlqoqlojhdjhfdgeagfdjhhjhggifjeigecffhehggljgbddemhjcZgiddhejeffadefhijhfecnlmmkoplqlpnmmqmjjonjigihkilmdjhighhimillkighjhhifjiflgjfiflddgfefjghifhddcYaecceggmjkimomqlhmknnrijdmfkggdfjjkhjkefgehlijhjhhjehggigikhcdifikjghkdhhkihjghghiifjfejnlpnkqoqpnpkrnqonnlgmolnilmqmnlllkkoqmmmomkknonhmklonkmffhjqiniccejfmpjlggeigeijfgheflimmplklilqqtqmgkfnllkeehiqnnijkjfhjgjnljmjikjjklemddfdgemmmegekhigjiiihgghcfigjjimsuuuvornnrvspppjjilnllhlknmlnljdkfmkjjnpkkjnihjnpmmklghljgjeaWYaadccffdfadaaXcabbVZhmkhphmjlhlkjlmikhlkkklfkjkljijjiikdiigikjkfiihjkZgegihfgklljeejfbdlegccfigZbedaghdolmoqnkjiiklllofkfjgkcbdaehdhhlijjnjkejjifihdgfelgjhihfkggghheeijiihghflfjkhjmfdflhnnqsvvtqnnosvssnljkmijfgfjlmlggfidfgfehjigkkiebfkfjmhhhjglfmcaeedaheebbebbebficZbcahfllkjjihggglikifWdcgaabbdeehafZbcfddabZYhfifccbdcechYdhceegdfbcbgddgdcdbZbaZaZXRachmnpnngheglkmkiccZjefadbbhkkiihghacdddfgfcbeihkhldfedeadbhgfjfinhjjkhjhiZccZdfbdefekimjmnjimpojnjjhefifgdfadhhfjfcddgkihbehfecgbfhfkeicfeggfikijglhenkijggjgghfjmgffkhmorqonnjnimknprhkioimijijkklnmmjhmklnggkgkflkhfihghhkfghghgkjdfeffhhfhhhYbccdhfhhgiroopqnpnknpnqnnjfglmkhkgemojnkljphkmhmmijgmhjjhikhjikaeggiiifehggimiomkldgddmnjgegktttxupoolnsqqtrnqkrqqkgmnnnfllnrlnpnknrvokppnnpprlmopmlrqponjhjkhihlnkilkijefihfhjklqrtsqpkqknqqrolqnqlqnkkmlnmmmqnllmmllpplmjnlnlsopqnoikllmnmlmmokmjlpmmolplimqnnmlkwtspuwttutwvvxwpqnrqtjnghmmlmlmmommkmllpmpkjlnomlnookkilkmnokgokioknmkmmiiiiimlgjon0wusxrtorsxstwusvsuorqrnopqrtsrorolpponommqpqprnrnrpmnlsptorfhjhghjjjffjimhjmkhihjitnnosvrstrttunqlmmqlnqjknmpnnspmlqmihppurplnpnmmmonpnjinoqqrhbiglmmmnlmnjnjkjnlolnmstptwprlnprnrrslnkroomllkopopqqkpnmonlknilmnnnjoqjpkmnknoqomplqqknoqnllmlljnonnmomist1rvyvvtrwqtvtxqrrwsoporxuyurqtrrrpputsstrspvswxsuvwooxsvtwmknmnnollijnjjijlojlmmjpqsstrlpnrsqsltlmlsqtnklknpqnlpqpnrprnopqpkpoosrrqqokmnppmmqgjmmgklmmjhlijgjhljmdefronltrrnlssrwsqkknopljmjlpoqnomllnkqhppnnpoppmnppopopmlspomkjhmjfjoiifgihkgehmmiikktnpqqsutspsqstrqnorrprqlloppqkpmmlpomkkmoklknsqsqmrpollnltnpgfiiiihmlljlgkgigjifijgrqqpvsurqssswuqlmfommnikonmpskrmknplpnrqpnonpljkpomnqnpnmqnmknmklknjkkkqegjijnfflnjrrsptytrsprprtpopnqqrspnpstrsvvvtnqpnlnppsspmpotprsmqqsvrqtpkljihgnjqmqqmnlgkmhjjiiotvxxvuttqrswtqnnonoprmoqsnrsqpqprrqrpponutnqqnnlqrsoprvqqprjikkkklmpnlphgmeilgjfnjrmomppnmmprotolmlonprlkjipoonnlnsmprplmllknkmpmlqprtojjmpknmfiigihjnjkjnkijjihehjkjrspuqqrolpsptotlnknrmkkngkkklkmhnmonnoqplkmllnmmmkponeelmmminkpolqqomlimjigillmkmnkvvw1xyztuwtvwyvurqvutnomsqsrrqqqsrtskpqrrsrrqpqrqoqpolmplpqsmmpmlnslnmnnjmpoimkkpnmuwyyxuvusuwsxuupnlrsnomoolosrpqllqprqoorqromoqpqromnlhnompnlmllnmpplpolomlikmoopimkvtxwzyytux00zxwptpsurpmmtsssuqnurmooqpoonrrssrrvpoooqpmqprpoijjiljnmjlikgiifioihlifqklpmpqlnoonpqqlohnrklifnnloonnpliilhihjhojknlmnmnolmighlmmmiclkjkkjiiehgifhlgfhgehqquvvqrntptqsorpkjpookmlloomnoojopmlnnmknoooqrnrpllimiinnppmkmppprqonplojrmllojjippqnqtttqutttqrtuoopxsumkqhnnqnpqmmsusqopqlqnlqqqqrprnnloplnrqkmilijmhkomkjcjkimkkikmmkoqpknjlttotmrpnknkolhjjnpqmqplonjlomoqnoopollonnpqolnpmllmkhminmolllklfkignnpmllkssstrtrkmotrvpxutlqonmnnpnpmonrspmpmontsosqsqrprqoqnsnpnispqggelmjqihifjlilihlhjjjiwttxuustuwutxt0sqpsnrojpovtqvnlnkmolppmjmtpononnsnnqppqopsmrlilkkfglpmjskggieiehiqmprtrvusrlqttvstpmjpmrlnopjomooknmimjinkmnpnqmmoknknimhfjhnkjaahcijhkhjhlcbZZfhfgjggiililkieifkjohiegYheigfffcffejggjgkijefdiedadkiioflhjehhhjlfgdlgdcgheeddddcceffeccceghkkhjehegklkhebfjgecceeebdeYbbdcfhcadhfhffgfdgghceiebhdgiiecbZaedfcddfYcfbfjfYcececfiiljghZfdefgegdhfehdfcaaehcgecceeffeijddhgdhccdgdcZahdfcabccfacXbacdcaaaYceeccaYfhdijjmghgihgdiecchifhZadgifhgeigcdYdYcfccZcedfgffjjegafbgegdchccggiedcbYbcZahcXZcehiggfmeeehfgfffigckjhkefgeggkgfghcffefhihfkhecefbkggiebjcgcdZVbcVcdbZdZYWZYXVYZVbfaabddaehbdeZbcbcYXYcagWWWWYbYZYdZUVaYYbcbbYaaWZaZYXaZSYVaXZabXVZYYcfbYbaaXaaXWdXZYZdfedggehceggfgnkhbbedbfdZbcdjhabddYebeachfbfcdecdhaZfaZXZYZbaaUadccgeaXXZddcabbYVdZcehgegefdfcccelifbZfcbZacbbcefcccXeccbecgfcebdfefhcfafdegfjggXWZYVYWabZZXTUUXYbYZXXZbbhfgfdbcZZYZedcYadggaacZadcfZXddYbaZbaZfbXYZdabbYdecbaedbebZceddfjfchcdaacdcdZcbdcciidkilfgfifjilfdchhcabdefddfccecYdgddgddighfebggegigbZfdgfgccbdggehdcadcaeeffdfdfeiggilgigkjjimfijjfifiigiiffbgjjklhfhfhmghijhfhjfjheghffhfjhkbYcdfekeeZgeffmgdecdfggjlnnrjjhjkjkmhjeedjeghdedgdgffcbaededZgceeeidZZcZhieiZZgbfbeWTZXXaabVYXZWaWUbaZVaeWiedihhffecdehhgeZcfcgYZYYXcaacZabYcaXZZaXeVZYbbZdaeZaWVccfcWXYcbbcacbZdfYccYaebadgdkeiljfkgdghjhjighZkfggcbdfeffZZZacdgifdffabaachegeeifUaeZfeibbggbcfhaaaZZZdbddecbcejlmlklojillikjmcdYdcfcacbeeffYeZbbcbcXbgZfccbebaeegddcabcgggZbedadaYaVXZYdYaYbcWWWVfchdejjehdkfillgffgfedbbbgdhebddaYeedbdegfbgdZbdhbgfdZYeaifiYcfecefcdfdfZZcXifgcghgimjmlijehfkgighigfhhiiigigijnfhcefecdedgghdifechgcgihffgegggTRVTYXZbcfZaYaXYYZVXVYWecghikiieeeehffceXcbcXWdagddieebdZYcdcbcYacacdZedddbfZYZabdcUWddaVbbdZYdbZWUVaZZaYchbbeifgYbgddfefabbhddcbacaZdfcaaYbgcbddfccabdcebiZgccYVbcbbbdXZZbZfdebdcXYXXbccZdccgabcffibfcfegcibYYcffVVWXZcebdaacabcdZegcbcaaXaZfbefdcXebedfWXZXZUXXaZaeWYZYWZVVYXUiimgmkleefjlkkhfeeggeheaZfhhhcccfdZbZbeegbibeegbdfigebZgejdcXXdaZYccYZcdbWWYXeabcYYgXeeghfcbefifcfbfZchfebZfidfaaYaWafccghfiecbbecagZfdYYYeXgceaefbZcbVcbYbebbZadYdZbbhjnkkigiidgffgkhdakefigfeggijifhhfbghfiifjihhcbbdfeefbdgebhcXUWUSTWXUXYbUVZZYZXVUWVbdecgebXVceYefcbeXdYaUUVWUVZZXYabaYacYVacbbacYVaYbXaaaUXWaWcbWYZZVaYXbVaVTTUXcZUVVXcefehaccddehhddbdageXbaYbXaZaababXacbZaaabaZccdedbbaYbdeeacaTTWVWXdaUaVSVVWTSUVSRXWYWbVZfbXXYUaYZZWZWbYaVVXWaYVYcWZaZWXZVZcWZYbbYWTZVYZaZZcYdYacZdddedccdYcVcbaXcYVYbbfekhmhdedgllngigYXeacacWbhfggchecddfefcadgheecfgeZcbceceZVedTRSWZXaZUVRUSRRQYYWVURWWddcdbcXbaedecaaYbebeUVXVaXbeXXXWUWWYYZdcWWUYUYaYZYWYWZdaXXXVTYZZTYTUWWVXZWRYYXZUWWabggfehZefefichabXZccbXYZaZZaXXWWVYVWZcbcYWVZYXceZZWYbXbYgadXYdaVZZdUVWWaYWVZdWZUbZeXfegddabdehdadgacecbZbZWbdeebYaaYdcaafdccabYcbfdaadbZcbbeeYONTUTSVVSVPRORTRVYWRTWRcXXYcXWVUXZbaXYWXVabYWaZXYaVcbYXYUabYVXZXWYUVVZbbWVYTVTXVXYaRQYTQQSRYVYUVSWRUVYUUWXZZacdZbYWecceadYXZcYXbXUVcaZYZZZaccXWXXYdVYZXWVWYacZYVUaUXXYVQSXXZZYXaXbUSPZVXUXUZWZbfcdcZaZYccedcYZXbcbXUVXaXdcZYZUaaWaYcbaXaYbXYWdUbYZXZZaZZbTSYWNRSPROQSRQQPRUUSOSRYRaTaebYYWTXVbZXWSaVXVTVVTaaYUWYSSYSTRXXUYVXXWTVYXTVTTRYSSTTWRTYYXUXWUSVWWbWXUVROWSXVbVechaahdficcgaagfccbabcedifcafacddcdcfffbcdcdeffddZcabecdTTTTSVSRQTRWRURSWURPTUUaYZZbeXWYYaZaXYXXXVbaWSURWXYWXWWTZZVURYVUWUXUWUXcWXTVSWUWWVZNNOLPMRQRRRQLSSOQTSRPSPYYXacYeZYVYXWdecaZcZeVZXZcXbbWVaWVWXTWWbSbYXbYXaaXZZWbTXWdXUPLLRMKSMNNMLKKLJJSMOONPZTWYacbTWUYUXWbVUTbXZVUYVcbbXUWWVUTVSWVXXYTWYRTVUVVSYURYZWTXIJNMMHOOJIKOMILLMJPINOQTSXVWUXQRUYSWVWVRVXVUSRSUXSPUVSOTMUQOVPUSQUWQSTTTNRPPKPQNTUUKLQPMOOOPROMIMIKLSKMNNLVWYWXXVUUWVWXZYXXTXWXWUYWXRWXXXTVRWRTVUUUUTRVRSUTTUUVSPXOVVSJIHLLKNJJKIQILKIJNGIHJHTORVSXVTUVVRUVTSTMPRPNOOKPPOPMNLNQRQRIPORPPPNSRNRKNMPKNROQQPIIJLJQJOLMFLHFIKMOLLNLJUVXWWXVUSPXUVZXRTOVTROPNPUTVURSVRTPSUPSSSVSUTNRPUPVRTOPUSSTOCADABAGFBBAAABCABAEAAAABAFHFCDABAACACCHFBIHEACACEDDCFBEEBCABCCCBAGAAAFECABCDCADGCEAkjmokpojoolpjikhhljjkomrsttuxxswsvuwssnkqsmtqqonmqqrtprospnsoptnpnnpknoopssqropospplmqnmnplnnnqpmopopnmoqouuzzsyssuwvrwxvvrpttursspuqtvtusqrusrntusvvvvqtturvvtoouvvrxjhnoilmiknjkghgejnjejikortutyrsrqpptqropkoorpqrolmmmonmmlppnkmnmiimlmoorkqrpllonjllihpnjmponrlkkmmljknlhninswwuwwquqtttxsutqvtsqpptwwwvsvsrrustvuxwpsrprtrusroqtrtvpusplpnqqtoipmojomnopnqnnovrrsvxvuruvsuvxppjwtspompnrttquqqporqpopoqqrpmnronomomnotsotjnlmopqotrrpnrqjjnfeplrsvwuzxxttsxwvvtoqnrponlnotpttrqsorstrqrrppornpmnqpronoqvrpsssnqrkikpkljgmmlkqrpnooltqrurwwpqttpunvsrlvqtpmmosvyvnonsruusonpnmounlnmspoomlpmkstqpmopjrsqsortmllhoronkolxx2w0zwuy0xvzx0wvxz01tuuuxvzyvwvty0z1xz30wsytz1zzttvuxvz1ywxlkmnnqmoloinfkiimrmomijqswwtwvruttqwxyqpqupqpqnpstpsmrlmlrquoorppoopqorsquorsuttrpmrotslmsrsrrsknnlqrqmqqtusxyzy1vuxwy201yvryxutstststttywttvvsrutuuvustupuuvtuupxusrtmirlkootupstruskrutpstrwuzzw30wwqwtux0xvqrvvsprttqvtxvwtqwvvryxtvqsuoqrtsrrqsxuuvuslnomqotsrutwlpqqsvsrvrwxuyxx0wzvsvwv1xyqsxuprrptrsqvqqqsorvupuutqosntrrsqqsrmmspsvqoorroqopsqqrotroovponrsyw0z10yxyu0zzyvutoxuwtrttuuwtosppvvxtquuusuotwsvursruqprtlrorqsussrpsqqprnsqnrmlosotxwy2vzuvxxw0w0vwuxuywsqssvt0ssrotxwwwwzt0wyuwtwvsytruqutzuvjkqmrpqoqnopnnmoqwunqsntvvvzwywvtsutwwxrpssnuuqttrutqtsqtswwqvsssuwxtrqrpqqrrsrqqpujilqnmpkmnklgikhnqponnksusssu2wwpsquwuosuutxoplosrrvorqqotqtqpspstwqvqttsttslmvpsprnlsrtrwtrmopinonnlnpnrpyvyww11ywyyw3vvrrvytvvrttuxvyvttsptqpxzxvrnqssvyxwtturotstqqlnsmnnmpummnosqnopmmrursqvttwtsrvxuzvxvqquvsstrsvwwutsstkropstruvstutstwntlqqstpxvtkeppnlnonktmotonooqmnpqurtxswwqwwxvutwwww2wzusrrw0xyrvrrtsxvuwvsxsvvovrttusqvsxrwtunlsopmvuoooonlrmsvsokqozz2y0z2yy1tuzwwvxpwtxrtssxurwuuuswvtxpqsutsxxxxwvuwtvotwovvtppponqqnsropnqpmsrsnotruvyyz03xuywxzzxvuruyusqptuywwvyxwpsvpvtvwovqorstxrutnrpupwqspprosz0uuuxwssspwywuuwwz311210z2w0051y13zy1z1xyyz62113w2u1zzxz0x11xx212417201wy0zzxutrvsvrqrsqsttsuqvppstu4z1132zwzuzvzx1utwyvw0x001wyxxzvxw0xwvyysuzutwx03231xwyzzvwyqqrxws0qwvvytxstyuutyvu0x00xxvwuw2y1vyxxtwvzutvryvz03zzux1wuwxxvwtxxzwwzvyystuysvpvurvttvutvtrxsprqrqtqrwrxuuvv0xuxtxz0sxutz1xwwxzyzx03yyuyrxxxxz0twxwvvzzuv0uxz002z2ytstsprrpvtrtstsprsqoxsp011023422x1x3w1yvuyywutuxv0xxxvvsrosrtuwyzyvtquxytxuvvryyuvuokqqkoomrppooorrmoplntoxtxyysrstsvssuxvrswwtrvstusxyssrrtstrrtvtvttrtruvuzvusntrtwvnprqortrrstsptrptwpstvz2xx1y40y00303w0wupxxsqorruxzxuvsvrvutvssnrttuwtxwrttpqpzvwrusrwrssrwrulptqnnntlrprtxx20211xzuxuwy2uqquyuursuswssuutttqwotwwsqqrsuxyvswsrrtsutqqyrw0urwstsvupxxryyvrqrs1uyx1zzuvuwuy3zsspyxwurtvxxxuyyyvsxvvsyytvvstsvqwustupptvxuxvutquuxywutvqrurtvwrvwtzx1284z14y0x445z1u154wvywy404yywy2z1v06zvz21z10y3x2xyuz2zzxxxtutrvwsvstysvvtswvqnut0y4043322z2xzxzwws0yzvzvtx00zxzx0xy0wxyzzx010vxwux2zzzu3yxvzpprrssywusqrprsrusrpvswvyvxywzvtyzxzwxvxwxvyruruyysxqqoruvtvquvuuuprwuvzvtvsvruttxwqptrvvzzqvttrrrpyttqwww22226113xz2z120yyw1z0xwxv2041vz0xxvwtvx0wxzy3wx0zuvtvwz1uu03zuwztxy2urpvxw1uutusvxvx0y21y0v0x2y0ywvwu00yxyxyyz10xy0wsvt1vyyztttvwuxxw0wzwwxx0wwuqrustvtsnqusspqutsqvsrzyz132101xzz2y0yzz13yxuxw22y11xwyzzyxzu0210w25122w2zyz100ww2rnwssuvrrpqpqvrrsrtrvuvyvy0010vytzwywxxwx1yyxyxxyyx3z00011yxw0xwyx0y0yy2w020tsvu0zwsssrqqsstusxssprstsnstuzwy112wvxxy0wzxvwtvvvtrtsxww0xxtxutv0uzvwxwytxzxzwzywwtzxwxvqiqqqsssonpropqnnrqpqru1zwzzxtwwvz2vxxvxtyyu0wv0vw1ywwwxyxzyvw2vxvwxsrsxzxwyuzytzyxrqwzswvvuuuvtrrtqyvwuyx045454221y2y148y2yx0xwttwyvxwwzxwtwxxuy0xwxy0wwzwu0wwzpswy0xvttvmtuvtrtrnrtouwtqvss1w67512yx05w2xzy2x0zxwvxuz1z2zzv0x310022wwwx0y003xzxvwyzx0y1vvxyyw01zwwzuxyzx0xv10z5z11z10yz1104y1vwv100wyuz0y121wuwwzzxuyvzuywv1y1yw00zzy2y3wzpmnqsqwvvwuytutssssruutzwyv13401yxyz4wy0y5z1utqvwz00wyvwt0yxxv2v0v0yw202txwxwxzwuzytwxyzwww10z0ruutwxyvyxx4043347y7x32575z2y4222wvz0101x2yzzzzzywxwyyzw1022u210uuvu231rnoxrwzuuutstsrpqtoowttzx221522z2y313x50xz200wy0u1212410u1yyxyxz10yz0x11wz0ztv0z1yxxx34x13yz4zxv0yu2z2vy1x20423264z344731035588zy2zz0z30101011025455210z1071322su1y24zvtxvtwyxwxuxw0yvxxvwyvu33887/456254433214364vxww53152011xy321102yz0y224101w00yz03zzxprxvtwwttpxuvwsrtxuqut20645132363578423s1130yz055452zwy0v3y21623xz1wzz22zzzwy2v225wvwxv00xxwuvwwxyxzvuxxw2076+59z3575596130422y0ux31205223x0z0101y3300yz04zzuzzw32xy016421236051400xw13yvx0z2335356v1043577381366733157461021017436440yz17432z3010y5z244xz22133120w3xyxw24016727z23135z00304641323345z54/9/81601232y345243861200053z0z52786yszzxx30zy24tvxt021zxzv446575420z453z314w3624032836436z368202z2433422515y2001164425514424633233234y5542345647546505666/87/69+/896/8/7//4385848775967945/799273075/6+8+1x0211514623y2z0356z43202336852229292472z2235321226514622565zz723z2331240666y033486wpx1uwyyyyyyx11x0z0yz10y2464zz225344x1wvu0ww1ytw2003y4wyyzyw0z1x1zxxzzz3x2yzww302zy407558361614zz1z10y25535410178632+387+5689794445/79/9798++9/4786555973/67+6843795982335y02420z2wxzy51323293374774788784364325775724666478660230257710y6+52/10215102667z24338553606665764+5656/+///9966/8/+8/37578648767363144264663983454538457+861196647035524475513y35z653678599/6/9+88////++641/6731w254528/9+z55254414455x1417/666554+19","ox":0,"oy":0},{"id":"hB","w":1024.6,"h":330.7,"nc":86,"nr":166,"d":"kkelhlnkjhhkoornlgklkjlkhjigklmptqoqpoplonqmjnknpqnmloonlppplommqnomlonolnmmpoqmpppsrrkihhhkkolnhlonorinjmjnlilkhglmoqspnqrqqqpvuqmllonmnnnonqsuwqmqmnpsqpmrnnlonppomomljqlptijmioonkkgjnlpnkjklsknmjolmmmnqqjjnoqvqrupmntnprppqoqrumopmjqmnllngkoplonpnlnopoojlnqkhfjimlhmhjmjkoijjjimomllkmiimktqloqppvpmornknipjqopmnkoqooqlknomkknhoqoonljmlnjnkhlkpllgjdlihikglkinjfhkhghlhnmlmjmktoiloquupqutsmonkmoolmnpokpmhlloqmmroiknipmpmnkommpmqmokhhjggjgieijgilkiiiinkhkjmgjkmepsppruquorrrolpilrqonmlmoltplloomniomjknkmkomklnmoolmjgifcjefidhigjfhghilhfghfceigiggdlunmnhonkknnmhckkgdhihmfikkljgjileehjfhpjiilkkghhgigljiphjmfhklolfjplnpololonokplmnnnsrnonposrqptqlmqnpnrmlmjnmmprmimloqqqnjnpklmmomopompqnlpdacfbgaagbecjjhhiikmjhkjlllihjkkoifikookighhljhihklnimglkgeekjkkhilkhknjjihlnjjmkoklkinkjiisnmjhggnlinkilkjlkmmomljkjpwqptpvwsqqqlmkkplmiljknnknqmjgkonnqlknoknoqsjlnmqqpsonqpkmlplnmillpnpoooljmnnilhlkmlqruqqsooolosunplnlpmslflkjmlnqonpknqmonmkpjmllnprnoolopoqkmmjlplqilmjjnninonrtrmlplnmnjproptlswpmsmlpqloovqpnrstqlrloqqqposllkjnmiopnrnlmommpngifekihhjegkmknngffnkdkfjmihokiorpmrhnpilpnmnliokklkkloollqlnkjmmkojkmikmjkmkmmknnnujnigfbeggilhcfjgfldafehknfhigjebdlkkkpmomhjlmkgdehcegghiehilijceiefiigeifjefehfdeedmeidgoljjjkkhiiehlminnonqtstsprlmopnqkqkonorirpronpfnqmmmjnqkqotmhlmllnpploqnmnmookpplnkloqoigkillmnhnknrutkrpmmjqkqqpmpqmt0vvtqsstmqqlpsmppsnqrnqropnpjilknllmponqtsprlstpoqoqjphifhijniidgimlpronpmponmokolpomonhmojnomkkmghihimlkkfkkfropqiklnjmlkjlnknllpnqnljnknkmonohglmkmkjmllknkmmmkjmkmpnmknnotnlvnstpsrrqpmhnplkilloqrssplnmonmnlmsmlrsopklokmqnonmmgigfihkehgeihlihjjliikgihggeigntpnomrusoqomljhnkplqnkjnnpqkkkkmlkkmilnjlnnmkmjlmlilomliiikolmkgmkpqlnnopptppnotnoopktwtststuqsysnososqqrrkmklovqronromlmllmkommnlmiroqtloknfgbhghfhjcegjhkighfdkeeffiggiefqpknmpupnmoohihgjjlfhikmihmkigjijjjjjenihjgiigmjhijmlhhjgfhfjkfhgefjkjkhhigjhhgjijgffeopnmnrsstspqnnkkniolmjhlonolqgpnpolmmklljlljlkmomlpoomqghheefidhdbeeciijjihlihekgjliikspmjqmnmnooqmkkkimlimminmmnrnhkmjjlmmiglkklllklpmlnjqjjifiiijjhghhimimnklolpoomokmllkjqoqnlntumionilpjnlqpljjklmppogjikmjomklnmlnprlkjnkompopgfehfeefhedelklnmlkomiihifhjjhjpqlmsljkgnknmjomloomnjonnompikmiljhkmjnmlrmpolklkmumvppfkeilhhledchpjkmlknomihipkiiiikomlkontsqqpmmkijnimmilimomiolejloikkhekigkmmphhlkhimjkldeaaaedbYaVZejfichZgdegbbcccfdckoljoioonimlecegcijfecfdbgiigcbiifcfdeejfccceehfdhhgjjilfgiflfhigefljjpkhjkjkkhkjllmkjrssnonsrqorplnojonnpqkkroqnlqhjmnojihjlokokmliksnmnloqqjeedcidifecihgjihhijijidhmjfilkrrmnrkoqorspokjhjnmoonnpomplojimmppqqmolmomrnllkkilmimjdbddbkfhgeccfigihipiifegbddffjdpslonmnnqmjmklkhkglifjliilnkihjjlggidhgjhingjilkljjkpjnhhfighhhigjlnfqljikhimnkmlilomlrmiopmsvqoqulkjgkmnqjmqgnnprmjjmonsoqomnnknknjimilllmglfeddffgegfdchfiifeifgfiefggdbghnlknqjjkhmkoigkeljkhlffihnhmijgkjjiihhgmfgiijjklmloijhhkiegejeigdhkhdfkeifjkflhjohmhkhpmknqmqrmmokolkiinmminmmmkjnnilnlmonlnqtjljlklmmjjoqqjnmgekgikgjgeiolmofhgjlhljjijlfkfqponqjotqponlljhmnmpnnnlroorqlnqqrqqonrpoonqoooompnkqlrfdfjeiffmehkmhilkiiijgoggmghilhqqlmrptrloqljhkkmnmopmknnipnnmnmoopqklqopolkjkmnjfmnplofhfgdkhfgcefihhkifjgglijhjhijkknoiokkopqmkkjikhkkkkmjhhklpnligjolkljlkpkslmmkllnilhgnneccfdbfeffcclifijjkjhjmemmkhfjjnmojpmlnljjjiklimnmmmjkoplknklfkmnlkmlnqlikgljijjikfnjnaaaVXVWaYXYYeffiXccccffcahgdZbdppmkmkmqomikijlklingljkfhghiidgjiilmkeeejmmkihgiggkgnplgeceejiheeehfehgdijehgehjdghhijnplipqmsqlongfhfhijhggjjemlghfklkoklnhehinjhmgdgjihgkflaWWWYZaXZYXZcbdfeedefggeccbeaXWhkiimiinkjkikmfghgjeghfjijhheghgkheieegghifgfdgifdfeiigifbjbhfgceaegfdhgjifjhgnilhhhjgopjglgppkponqhkilkiijkgjjiojjgijijhjjljnlkijmjjjljmjmjkhieehjifhedjecegedfifgfikkefidfllillmptnopojghioknimjlihpkmiompmkijiijjlnolrjomljkjmklXbVVVaZafaZefdgekiijfhjfbecdghhknikijkomiljmpihlifkhjhjhkjjlhkmihgjilmmmlimghilkmmjmjgZZaZYbdYZZYabbeeafffcbZcbfdddfbiljemihgifikfehhnhgejcejhcfjfgefgiigfcdgeihgfcfgcefdiglhgfeaiccjhdhjedkbdichfjeemffjjjpomjmnorlmmqjhjjkhmlkjmieppnjeiojjfligjmlihjhikkegiilchgcdebebbdaacdhcifehihhicdeaaigcpsnhpqsrnmmijghgehfjiiifjfmhfgkikhdggijihjlfjihiicgkjjkaYZWZXabVWTUefggeheacefcehcccadkjghnfkndehefgebbiigegfgdiffcddhafejfbcdcdgdeegieggdcgibYZaXXYXgddaffdgegihcgeddcdcdgcjkhijiiolikliffegfhhigjijegiebgfmhghgfiihiihmgfkjiidelifbacagZbbcaZadhceglehffdgfgfedcjnkklhmonfkkiikhgnjnmjlmjiiniffhihhligifeliifjnknflijjhbYZbZaeaiacblhihikhfhidbhcedfehlplpsonnlkmnlgieghfjiejfhknjjhjhkfihidfkcjihiiijigjjigfaYWZVWaXYWXWheggbbaaacZZZadebZcklfehikklglmgchbdjihhffjichfhedgghggkegghfghiceieeidlihYYWZVWVVVZYYhdbdZdbdZVbUXcZYhdblhifggihfghheefadiiefghiifffdZdaddeffafgfddgjeghedgggiddbYbZcaZdaXZccdicYdbcihcedbedeglmmflgfhfhkfhcfbfhghhhfiigajfihhheeigefjhfgfdgdgegfdijibdXaVZYUdebdbbehZZcZcffefZeYbaaijhiggjlillmdidfehafdaeghhfhcdbdefdgeWddaZcfaeggdYgafhgibcdjifjgffdjfihkhllhkdcfhgfgehnrlmsnnrllppihhgihlhghiihjjhhhgikfflehhhjhlmjhjkicddklkgecffgfcefahjihkekkhkdcggfggjjlromosnpnlnoojgmdkemikhlhimnlkimlijknlhjjfjigggfkgjjjkklaWYZXWaYYYVVZXWXdZbfdcXaaYadWYYeidcdacidcggedgbfbbZdegeibdfYUaYcZcaaaadZXfZeYbdYbcadfdYZZYdabaWVWYbbdhegfdcbcabbcfcednigghmiohglmjhgfeeficiimichhegihjgigcifgfhgijbhdehlhifhhbbfkigihdfgjkijigfejihhfkhghhdmnmnnmrtnknmkilikjhiigkijggkjhhklhikkedgemqhmlkhihhfefgaabgffdfegafhhhjghifikfdbddbhhiophjoklqnplnkjjiojokmjkjmlgjjjgjmhfighilfljoklmpoipgmjnidgeddeeeccdgcgkbeeejhihjhkljggnqlnnkppmkklhjhfjkjjhhejhiljjiikloipmhlmkglkjjjjhjhjkjjddbdgghegcbehggffhfgedhgghjiggbklihilnplntqiefciehehcdidiigfehjhijjgdhigggghfgjgdccfiggbebfdccibagcejifefidhgdigffgcejlhfljoljlkihghffkglgdffgljljjhhjhiiidhhifkgigejgfiekilfaZdbebgfbabjhghfgfghfjbhehifhfkmfejhlmiigfjffhhikkifjfjijigcifceihfeiigiejiiijfimimjjaZYadggcgecdfYcedieggfhgdgecfifmlikjhlnmjmoggdhejlkjiklkkmihiihiigigjinijinmhhlhiihmflZeaZWgcdhbcfgfhhikjnfhhgdgeghhdligcjnhkkljkfeiffgebfcdghbeeefedicghcdbbeacbdaehfckeechXXXVUabXVWVUddcbXecabZZcedXabZbfehYfceedefffbbYacjdaaZgebhebZbdadefeXcYdedaccbadeaZichcZVYYZXaaaXYgdeedefikefdfdgafdakmleoioknljkeaedhhjehhhhjgjifccddhifdehfehgiffhgfgmfkhhaVWXYcZacWWRWUYdaaYZaWaZVZXXZXZhcbddYdfZcefXaZbacefhcheececZYXZdXZeYZdeadcgjafbdagWdegeaYVcYbaeYZYfceefhhimhgfeeigidioomkjnoqommmffheggiffhgfefiefdefidekfgfkgllikffgcegcgfidXdcYebZaXZdaZZaabYYddgacghcdaejjgbglnppjimjehddckddegcigjkfadefdgidegejdgfcehkfeegjdfXaaXYbbWcZZZecbffdeghegdZbeafbdllkgjjllmmjkfeegegefigfhkiheceXgcacadaccbdddfdjgfchcgaXcVZZbdfecYZdcdeccddedbccZbbZhggmjedfjklgfgkcbdZdfffdceeedeecZeefefifeedbjkeeegieZgcgfcWUWTSVRYWVUYcZbaYZYVaZZbaZYeZZZdefalbehZggfbaZUbcfdbbXdcefcfbbdacfdaaXcbZdbdbccecfbebdZQUVXZZWaZYbeaadWcbZcYdbYZXacaXgkfejdkjkgijeaafcYbcdeefkcghecffeedbdcgdbigeiefihbhaeffZWXXbaZZZWWTeYZhZYYYffedZacebbdggfahikghgiebacXfcicZeebcafefaceZdafdZYabfdbcbZbbZcWcfdbYZWYaccYXUVeccgbfedicdbbgddedcghddicffdffjhdfafilgebceageibccddfeadacgciedhceffebdffeaXSWVZYbWZYWdacdaacbeacbebZcbZbhojejgjkjfgjfehffZceZbdbeZhcacfgdbdfbaaegddbaafffdhdedfdZZYZdccfXafddfkadZfddbccdedgcdkhegkjikfjgidcdYZedfddfcecZcZYaadeZabbadbdifcebbfdeafddqknormkmmnlorrppnnpnlnmolnonmlmptpssuxvtvrxtqonqquruqwuqqsutlousqoqpqotqqpppootnrtmrpsnjkjjlklqkkjmkmjmnominnlornoljjpsponqptrostonomnnpornqrqmroponpqqqqrlosmjlljpmqoksjoprklfjlnnnkmhlmkmsmnmninliklljlknqvoqtpwsqrrstpqknoqorprtspqtolkopinkmmqroimnqokmoonnnpqllnkkmnormqqorpnnqpnqtvvpqppvuszttqvuyzxwswrrppswvssstrwwwvqsupuuqttprttvuwssurtrvswoxmjjmkomrqnkmqsopjjmmkononmljlmkstossovtntxxpttqvqoqmrtqqotrqqortsvsqhmnjvuoposvnrvospspjnlopqllhlnmponpposnpqoqrnmppmrqonrsttstrqqqpqtrtrwnrpqqpqqousrpuooosrpxtrrjqrnsuosrtmkmhnqpopqqoqqtwpovoorpuuqsstnowvtqwv04xuvutvvwstztrutwrrsuqpurstuurprqowvsuwuytquuxssmkjiknqnjjkmsjpnonrqprspmomiqoluststrxvturronmnlprrrmopqprqnmntqmlsoinqksutpppssnpmrmovoqrrtptqpnvppotrspttotqsvuunqozwtszwxxxvuwvvwsyuyzwvvxwwywxsrvustwustsvwutuqwtruxzytvmhhkkjgnlkmloorpllnpjlnjklmmnlnpsoqoqtqtqoputupsrxsooqrsstpunptrspoqovwqtuuuuvxwxxt0rtrkmmjlklkijoqlpokkkmqoprnplmpnmrutqvsxssrtromqosqppsrrrrosqmnnormpqopqsmpqprrunqpqrtqrnjjlflhghkhlgilnklommiojolkonihmsoornotrtpspssmoosoqmpnourspqnnouturnroppqprnqtppnnqpkutqrorsssmptmnnrtwssrrqososoqnrvvorqqwruvxsstvuxyuuwupsvtwztpvvsqsxqopopwussusxsrvsvvtplmlgjppkinooononnpnlpqmpsqrplprtqszuwxwuvusqtrtqssrpstrptronqpsurvsrtrtrqrqspsrwwtzqstnrsqsqqlmllurqupuprvuwrqwusuutywspsvxxrrurrspsqtusttrzsrswvoupttmtqsuwrsxuuuvtvpruwqqrsrqnnmorrprrosqpssuuusnpstqqonxyvswsy1zyvuttrswvrstqsvqs0uvppprruwssrspssvusqwotsrqssxtuunstwyuuswqusutpvrusqsoquqrsyzxvxuwyyw321yywzwx0wxvuyxyxxuzx0wrwxxyzxyyvuuuyyx1v001rrsqrqttwrsuotoursrrtlrsoppmsqrvystttvxyvtyrtvtwvwwwuxwvuwruqv0qwyyvqvrstvsvvwy0txuzxvqsopqltrrqqqtrqspppqxrwsqwsqtpppttoxprxutvyronionqnsurutorttrrrtpssrruvssrqprprsprptruljiltqqutpooupvrxuopuqqmrrrolqosuqsxywxttuwssrstttutrsqsquqssswvtrtrqqvvwrrtqrpssspqwwqqstrpqqtqqtprrqrttrtrsqtstmsut04020003z00ytxsrxvxxwtuzwzywwvvx0vyyvtuywx1wxxwvvtxsuvznmmossromiihrjpomqpplpplonjlqortnopssuwstwusoumqnnppmrqrrwqtnorrootrpqrpxtrurotpjrmprptqotqrrrppmqnprsqosxuuroqsloqoqruuqyvuws00xxvwr1tutsoquwrtturtrtwruwpwspstwrtntqturusutlnmgspsqoqnqpqrnrpoqqoonpnkollsywutvxutuytunspprysspssqturrosspottpopprnslpvvxvtutsrtrlqkqrrqrpmooknpnstqqvtppsnquqsxzsqyrvvvwqwutvtuuvstuttusqsrtqvvstzurpuqsrrrtvrtqxqvrturqsuyzwvtruzxwzwvv0rusustuuwus12zx0xz0vtuwtxx041zz1wzyx0y0xz23xywz0wwzuxx0yz223y0y2vyokoonrnopnlpoospqtquttutsrrprrr0xotrwuywwwvvxzwzzxyxzxyyxvxvsx1wzx0uuuwvx00xuxzzz2xzxyuurqqsnrwxtyqrtvtwtotqurursquuu2ztuyw130x10wmvqsvuwzsxuwsttrqtsssuusvwwuuusuuuztsvsysrvqrqswyuwuwtpvsttuwrxwuuuyxuxyw221600230015zuxxzz0v0wzz0y1yxyx01v20yyz123y20t1yzw0uyxztururwxpsoptuoqtpmurqknpnsroroqvyrsywu0wuwyptwutuusvqvusqtqqsttrrqssrtsrtsqqrsqrstrsvuyxxxqrwttvtsunruwrtvwtvssurstuv0zzy0y10yxx0utwrtywwxwx0x20zxwx0y1x01xwxy0zxvxwxyszvvzxponmjqrpplnnuxtvpvprvutrsvutrrqxxurtxwwyxw0uwvsvxwxyuusvvuwsrrtuqrprtuywxzyvxtxvuutturststouvqurtsyuuwvyvwuwuswxxxwxz4yxxz2390030yyyx12121112y1001xyyy0301yx11z10zxy1yy31100upnstt0wwssvstqutrrqtrvnwwtroqsx0xyyy211yzzwwztwyyzwsxwwyyxwtxxy1yy0uxzu200zw0xvvyxxy2wuwvuvwxtuwuuwzvz0wxywyyyvxwyxz84115y26yz03z21v101z3303201zxxyxx2y2yxy1y4216432521y143xwsuvvvvuqquwwwvsutpwpwustsrttt01yx1142z6250wvsu0011z134yxzyxyy00451uy3x00wx21000yvz42xvtzyuwxsrqr2w01wvxvwyyzxyvxy0x02z11446z000x40x0z513wz2zx3zyzy131100y1005x510211zzy0300uv2wyyxzzxuzx2zw0wyy00zz11104w1250323715326103643580485656616512052y14533263779473824vusrvvytyssvvvzyzwvyywwvwx0vtxv33y134676113u11z11313u1y01x1v1201yzywz154yxvv0232x4xz102w00w1yvxvvvxyyz0121210yyvtv13y5426414/4+54201yz042345832433z1230y0x126410400z30y3z344ztuvuuuwwvrtux1zyuu3wxssvzwtx1u43u00zz53530301zx344222502011z2131345z1z2y326213223z1531uxxy0z230000v01x1z00y2y1zy0y1w51zw324541442221311z20y2zx541wy2zzy4yw011x4x300x0zzxz02xvwwyttvztwtvv00tvuuw0wtuwwuttz31wx11751121yzyuy0312wxww102zwx12y000y220xyvxvzw2x1w3y2wtvxtyuvxqxxyxx0yw0wxyxwwyyuyyy36124035z100111z1y6223433232100313150y16012y3114y12z303yuwywzyxwyuxwyyzuwx02002uwvzzz271zw231344543451512353434224132251424304053032665232403wwww02110uvvzz5124621122x1yxvzz6412424+67+6534030443y0y157z61y62523z001z22131y2015y5311wx0vwvwwvyvysxwyyyy401yy12z0205735669894625222621302544547113345454136z1632246455046342xzy20x01v00y02yz1z213z130zzxz6/7755+814334342784544461436220764201447475543368496+47311z46743xx05477123353313324635//45+35823776+/976/9+699/78+8668/65/69//988887/8/++9/+/73zzyzy2zyy74001z630323505z374595z3857/5356+7443678788/637534689999884948/9/55/86+655/1x0uxwzx1wy00431z43y6202003z0z07+/8/79/8/9/+786/8/9/88+83865464779858/865636677+652886RUVWTUSSXTVWWXVYYWVVXXVWUVTZVVXdZYaZcbdadbYaabadZWYZacdZdYYXYWbeYVcXWTVXaYWXVaZWXaYYYVQPWQVXZRVSORTSSVVVWWVWYXTQSUSQUbXVXZWZabTUXXWXWWYZZYXYZVZacYWWYYXWWVZYZXVUUWSYYXVabfWWXVVSYUUTcXVYXVTXYVWZWVZVWWaWUUXXWRXUacZYYXYYSWUVZaZaWYVWdcabXZaZVWaYWaXZZXWZWUcdYdaaXXYTSYTWXUVVTVUTVYWWTVaWYSQXQTVSTYYSVYSZYYXVXUaZWbYWUVVTXYbZYZTVWaaXaXYYaWYaVYZXcaaYacadZWXTSSUTQPQTUSUZUUUWXZXXabWZSbVWaURaYbYWYYTUWcadZZZYUaYZZZZZWVWXXRYWUXYUYYaaWYaZXbZcZddYWYVbaXZVVUXZXUYaWUXUZRZbXYRTVUYVTXVdeZXYZWXYZbZZdYXWZZadZTZWXcWWaXXZXXaYYbVXWYZZWYZYVOPSMOPQPORRQVRSUWRQUTTVRWWUWRRVWRRVTTWRUVXYWUTWTUUXTTVUVVPQUUYXPSTRXSXVZWWVRRTPTSPSWWYWVSRXZTVUXXVYWbWUWYYZbURVRTWUXddVTZddhaXcZUYWSVVZZVVWUZYaXUTVUVWZWRUYaYXVVbXXXZTZSYSXQOOOOSPPPMPOTOSRRUPROPOQQTTSPQMTWRRSVXYTWRSSSUUWSNTRRRUPQVWUQSQNRSUTRWUQQUQRVVVTSRQSTTQPNQXYQTUSUUSSQRSUUVTTTVRQRQWRRYYUQZTUUSTTRTSXSWVUUPSUXUYSTVWTaWTUTUPVTVTUSUSUVSTYRSVVSSVSTTUXQTUUYTWYXTWUVWWTWWTVVXVZacXaWbaVUVYXTYUYaZUVVYWXTUVUVUUVUUVTTXWZWVWVVUdaVWXYWVTRRPPQSTUNSQTRSUNPQPTPRQMRTURSSWXQTXWXTWYWYROSRVXUQWWTWVYYWTPSVQUTSQRVWUWRSVSTVVUZTYUTUUTUUTSPVVQVRUQUSQUWRVVRTVRPVXSYYUWZTUZTWYWYTWVUVXaWXVWTSWZZSQTWUUVVTSVVXVZWWYdZUVWWTWYYVVTaVYXXVYYZWaWXZbXUaVWWWUUXXbXXVUTaVVZXXWbdYfYYcZWZXbbbeZaYabXZWVZcbZWWYYXSabacZZVcVRROSTTPTQNTRQVVTSTSVTVUSXSUPOQUWURUUYbUUSWRQQOMSUPPUTSVRQUOQONOQQSQMSTSTSRSMQQPSVSUPUOMPNNRNORLQOOSTSSTSRTSVSUUTVWTUSUQUUOUWUSPORZYRWVZWSTTTTUTRTQVTUUSURQTTTRQUURRXXNSPVZZNLKNOSOOLJJJOLPLIONMMNNKKNKOLLMSSQNROSQUSQPOLRKNPQNMMPRONSMOMKNKKNNMMPRQNONMRSRRJQLQNSTRQPLPOQSROUSRTXUSSQSRWPLQNPPRNWWTRWSUVSVYWVUWWXTUTTRSWRUXWTPQSTXXYWQXWSXUXYRRVTWYTWQUUQQSRSWSUQRSTTYXOQSSUSVUVVTUQSSTVTUaWWZWTQWUSUUWQSSUSUUVbYYWOTQUVUSRTSVRWTUVSSXUSTTSWYKLKJLQPJOQMOQPRWSQQRSQQURQSSQSPVWTPUVUWRSVXUNVPTQRSPTWVVTWTQRUTWWPPRUWVWUSQTURXWPRVRVWONNOOPONVPMOQNQRPNPPMLOONRNOLMKSSSPVSYcZXXVURQOPRURRQTUSRQRLTPUPPRVUIMPKRSQXUUWTQRSUSRTWUTUWYWTQRRRSRWVUUTTWaUWWWYSQSTXTWaTTWSXTXZWXUZVWXZZeaaZbWYYVZaaXXYXYaYVZXaUXaWYYSXZbOROSLQONOMKRQKQMRPURSPPMMPSLUSOSWQQSSSSQUTSRRTSSSWVWTRVVOTRQPQSTUTXYQTWTUTQRRVWVOVSSQQOPOPNNINTTLOVQVWNNNQTSUMNPTPPSRUXURSRaWVVTWRUQRNUVTTQRSURUOUOPSQQUWPQRVOUUTQRTSQQTOSRRVPNONRNSPINTQMIPMQSSPLQKPOJILLNSTQTVNRTURQQKSSQSOSPRONPRRPQONKPPOONKMRTOWSRUNOQOMOLQQRKHKIHPMLKIGIHKJMJJLILOLIFKIMKLJMMLJNPQSRLMRMLNHJMQJOJONNMNMJINOKKMOKMMMQMMLPOIMNNTNRMPQLJOMNKVQQKNNNORRORPPMNPLNLNNPKPVQPOOQOMQUPPNPMONQRPMPRPPQRQOMONNNMLLMQLQQPQJOPNMPMOQNSNLNKNPLNLLKNLMKPNPPROQTMROONVPVUSTSPQPPRRONMPNLTRMPUQSTORPNIMOLLOQKNSOPPORTPPPNQPPSWSKMIKNOLMPMJLNNRPNQQPPNPLMONLJRMQTQPQOOQLQPSLOONRNOLOKRLQNNPPHJJLROQNNOURQQPSQOQQORNOQPMIEFINIHKLIMMMKJHJIHKJKKJJHJSOOTOLMQOPQOOONOJKLNMOMMKOOSJMQLNIPPNPNOMMPNQPNMMNPNPPSSOKJHGGBHFHIFFLLEJJJJJJFHLJIKMJGJHIMFKIIFKGIJKFHIJLIJIGFGGLKNMLGEHIJDGDJJLHMLJKFENIJKHILJNKDHFGDHJEDHHGFHGHFJFHGGGIIMGLFMKFIIIKOHHHLJGKGKFEGJKLJKJLIMKJNLHLKFGJOKQQLLLKLLFJFLOJJMGGJKLMKILLKMMOMMNOKOMLKQKMOMPJQKMPMUVMLMNJOQHMRTPSLORPOQOOKJPPRPROLMPMQNPMONPOMRNTQRBEFECGFBGFFHIFLGEHJIJEDFFCCAIIHFJHAJFDHDDHGECHDEDIHECGJECEBFBDJFFDGGFGHEEFEFEIEIBGCCDFDAAADHFDGGHAACACBBAAEAEBABAAAAAEGDAFDHJADDCCCBBBJIFEEDAFCCEACDDFCDDFACGDDBBBDHCCBDADBECBBDAEDCJFDFDGFHBECHGGGDBDCAHFFHEFGHCDIEFIGFFCDJGGEGHFJHJFIHBABBFGFHGFHGJHIGBCHAIHCGGG","ox":0.1,"oy":0.9},{"id":"hC","w":1022.4,"h":332,"nc":82,"nr":166,"d":"lojpqsonmumtszuvvyyyvwuuxwwuvvr0vttutxttwtqsvuotwrrsytwstwwxqvsutuuxvyuvuqvruxrvtqjjllhlkjmmjnouvwrssuwtnrtponuomorqprqqpqoooptnknsnnnplppqsntpqoqorrprlsnonpqrpinplmolmqmollmhlktwrsvptvqnqqosrqqstqpuurnqnmnknrpssstnqvpvrprqqtqqrrsutpoqrpqtpqrpsqsprqtrvuuovosv31zu0yzzxrsvvutyrswtsuqwxwuwvuxz1xyvwrwvvxxtzywyyxywuvwyuvuuswpvwvxvutsrrlrlmrqsrpw0uwzxyxsqurqrtqqtpsqpsqrpnutquqqmqtuqotqpssuwrppqvsnsvnvtoputurrqrptqtptqwprrtrtq34zsyyzyyvyxvwv0wzyxvxxy1tvwsvwxrtu2tru0vy2twztwyywtvvvxwxswvwzuwwyvvrsrqqwsqorqqmyztvx0yyxwwuusuyvtvwqutxxvuuuyz2y10utsuxwwxwvsswxxytxx0vwutrtvxvvrtsuqonooqmpmrprp32wxz1wzxtsvruwutwxzvyxuzuwzvutyyxwuvvtxwyztvutuxvzvuzxwyxtvvxwyxuwrsmhiompmknokrmvuruvwvuolousqsqnpqnmmqtuqrnmmmvssutoosqnwrpttrsxsqpyrvmprpttvqrsqurqsrnqqrqupqnuv33zywy0yzuux0xy2u0xxuzyw1vx2tx2yvtvvuwuxvz0ww0xy23ysvruwxxwwvxxtywyssqsqqqpppnrqsnxyupvvrtsnuvuqsvtuqxvttuttuuutvwxx0xsruwvyvssttxuvtstxvrpsqprsrusswwtklomlrqlmnknluxvrwwtzsurussrqtrqurtrqvqqrpqqorprusrrtotrppplrtsrstrsqqskrsvquunrtuqqruqsronmntt2zzuyzz2ssstusuttvrxrutxupvyvwwtswsutrrtpsrpusqsxvwqyttqmoruuurtuutwsppqvrrqssvrus11yy0wz3zwvyrwvvwvzuqssvrqvurwuvrrspqtutprsusyuutwtvuyvwtwwqvvstsqqqvqqpqmpommtoqltyupywy1ztxvstxxvwwtpwuvxut0vtusrpruutrytzzvzvtqtsurrrtsqrrrwtttquvmppmmoqrrnjpnmq000qtwutvnryvspwtxtqqrptwrqsrptttrqvussvtwsurutsttwrxwvrpvtuuupvvsvvqlqoprumnjkmmtyvzwz11wysuxuuvzzvyywyy21zyyywxz0zz0zwz1y1xxz1xyvy0wwyvyyutxzztzxyxtvrnrpmrnokpmrk0xyyzvvzurrsoqwwusupqorvsvrrnsqrsrtqnonssvutuwsqrqtoopqrrtsqptpqtoursqplqnqlmsqntq1yxv0xywysxxtuyxtwxtpurutur0tpzutrtyxwxyowuusttw0tzuuyttuttxwvwwvtwvvpsrvqtpsnssssxyxvwzxyvssrrprxrtvrrrtuvsstrtvrrsuxrstrqrssuwxtsttprvstosnpuysvqqwvqomoplqknomlmoxyywvxwusrrststpspsrvqsnrqsqrnqwsrussqnsqsvtqsqqqttopqrqssmuqusptpstrsspuorpposprr031uzyzwyssxuwuuttxyu0yyvuuxuzwuxuttxuwxwvz1wyxvz1ytvxuyz0yyvzvxrutusnsosqvspkqqpry0tx01zyvqszvuwxyuywy0xxywwzvyyxwsxxvvrxwyurytwvvvxurrtxvtusrwswsuvtwpqrnmsolopllmvxttuxwvuourqrqqpqrqosqrqqqqompnpoprstrpoqsqvpqpqrpooquuwrqqsspompqrqnroopoqnnrmsmxvwsvuyyvsussrsprstssuussmquqsvuoonptmoquvvvysuuuqsqtrvusturtqqvtktswqmmpoppsrpprqzw0u02wywtwwtwttswxywsxvyvtutuuuwvsututzvxysvsrvsuwwuywxvzxts0sssruwunqpnwvrrrsrtn01y02zzxuvs0tvuxvtx0x12wzyvtuswxwuxuzyvttzwvwyzuzyx1yvyvyuxtswtvwsuuzpsqvqsstprpqs32zvxzzvyvu0xvx1wvw0t00wzvxuvwyxxzxrxvw0uyyv1z1vxw0syxxv401wwxtwyy1xwnlnlmsonororoz2yyy02yvqwwvsussttvrywwwqsxsquvwssxupswswwqwvvsvxwuvtxwquutuwsrvsvtwqpprpsppqrror0yxwz1wuyvvzvwuyxuxvuw1y0xz0vxuvxvx3xwvvsyxvzxtywwzywzvvtxttryuxxtvturmqqnvqporpss452xy2x0wvxwvyvytuzzstrx0tx2tx004z1xyvx2v03zz2xvvw0x0y1yzywvw3wwyuyuwonnnnollmpoqnwxvxxvvrsqsuunrusrwtrsstxrwvrsuqwrsvsurssspwwsssvvvrstutrspuwvvsptttrrrrssuqspsptqz2wvx0yxvruyvzvxvtxrtrsv0tvxxquwvtxuuorvvvsyz0tsuvsuvxxwrtssvxvvsyxuronppoprqoonnowzywzw0wsospnrrzuuvrtssnpppspqrppojvvpssrqotrsrqrrvsstnqtrqooqstsnsrtoootrwsssxrysuzyyyyy01vx0vwvusuuwstrxxwtuuuwwuuuywuxvtwvvwvwsvxwrvvutwuvqtswrwsstuqsssotqrrtnpp0yxyxxx0uuw1tzzywtztywxy2txxxuyyzw0zttrxzzxxyxzsxwztwxxvzxuv1wxtwvuuvmposttrqqttur41zywxz2swvzuwpvstsxwwwssqszxyyyxwxwwwvuyxvutstxtvsuxwxwswtwwvtxxuzuwrotpqqspqvptr13z02315vwzyxvvy0yy0000uztyzyx1uxtvwuuvztywuuuxx0wyz1y1vywyywzywwwuvwswouuytrnsoqo33003323uvvsrsstrqzvsqsy0txrppuwvxvz0yxttwxvtxvtsxvvxvzqttuwtyssuttstosoppnnnnpnrpvwspwwvw0tuysxwrospwqrpyxxrvsxuurvturquvvyvtntouvz0utswxxzxsvvussqtsqtvusmtspturqs4x1uwxx2xzvxwvvxuty1xytuvw0zvsxxwvuwwuuyszuvwwyvzw1w022uwxrwy0uvvtrx0wruwrusrsytyt463z40341w11z0y3vw01wz3zzzywxvwwxuvywvw1y112211z02zy0w31yzyx0ywvvt1yyonopnnpnpqlsnxysruywyswvzttx0tvwwryvturrqorswwtrtwttxqxwzwvuwquwwvutxuutsrptuwtvsssuurwvsvtxsvu175335258340zyy330y3111yyuy03w1132351yzywyy10441y3x45760xzzyy0z024z04opsrqvsnrrrtq14vuuxxwtusqtrpwwutwsutwzuvsxrtxuvyuvuvvtxzwttssvtwquruvwvuz10yvvstxwnqoonupmospsq1zx041zwzqvvswwvuwyrpystzwwuvttw0xtyyvwxwzywyxytusvvyxvuouxtvuqsutvxxqrpnptpnonprkw1vtvxxwzruvvxzyvuyxruwuvwwwswtuvvvtvtv0w1wrxwwrtwsqsqttuvsx0wtrwsswwqvtuutsswxvwt66625z230ywxuwu1yyxzu00x0z1uutw0z0y51zy1x12w10yywz1xyy100xyyv0zy2y2xxnpmononjilinjwsvrtxstppopomnvrvtpqqnpponssusrqrstrqprknmptutttssosurrrpnqvuvoorltvrrprmuorrrqsv345z32z3zy0suwxwyy0zvzwx0wuxwtz00xuyxyuwrwvzwvwxv0wwu0yzu0tzz2vzxuyvtxwuxvvsvxyw2w575292533122z0z1w13zvxyz2y1yyxvxxxx00xz1yyzyy4xwxvyv1w0xzxzv0xu1xw41xtsqusqqqovmusxyztyvwz5yyzyvxxwv1uwtw0ywx0yw0vy11ywwwzy1wxu1uxyx2xzxttwzr1zzwwxxzw0tqtwsvqssqury214tyzy30syxvxxzvtu00xx3ywywvz0wxutxyvuyuxxzy1xvzvuyxyywyxuvwtszttyvzwwzxuzvut0w0y6422311010552z02y31201126y41xw3200101v2xy124025z404zy02zz10232y0yw2yzpnpnuqpplornqvzuozuy2wttsotustsuvpwwsunstququtwxwvvvztwxurwrttyxrurspqrpwtwsuprvvqtrrptuqrssrrq10yv10z23x03z103y4z0xvuwzvz1w20500yvwxo1xyvzwy00zx0vxzzvy3yxxzzyyxz02oqprqrqporosozzvsyvx0wvxytxvzstwyx2uvussyvuuvyxyxzuv0twwww01xzy2t01wyxzxwrvsuwyvyyprrrtyttruqoty41v1023yuv20yzvvsx1vvxxxwx1xyy0zwzyvtuzu0xtwvuvxw00zy4uswuyw0vuxvzxvsruquwpruysyq5+3253360zx11yx1w10z01yz1xxxsxzxxy1zy0z1yw1wyyxx0y10y31zsyxvtytwyxxz0qrtsqronpqqusz0zzz1x3xuxxwwwuutvxw0xuruxuvvv0ywzxwvvwvsywyzysyytvwuvwywuswxwvvtuzwqwuvturustsvs11134341zuyxvv0zwt10100wvuyyxv012y0ywvwwzz0wvyww2x2yzyzxw11yy1vy1y0xyqsquxwvssopsqy31w1zwytrtqtttvurqurwsyzvxutustprrzyvvyqvtwywuqstuvswtusvvqsutuwuutvvuwvxuwurrtsq131z15zxxt0xuvxttwuwtxtyzsuvswsvxszuurtvtwuxy0vtyw0uvuvu2uvu1wvurstuwssquw0xxvvrvs231047120yyyvwzzvwwyuyvuyuxyttuxy0yyyvwyv33w20ytywvx0z0xxyvyt0wyvvx0zpquuswstu0rvr321v00z21vy202z3yzz4020231001x03yy0zy1w023z0x01xyyxt0wzy01wz20wvyx1xwqsppttssuvuvp13zx22000xv1uxwvwwwyswwzzxyvutvtvxuywvtyv1yytvvuxyvw1uzywuwuwzwyyyxwxw02z00x412143367256556154z2456z4523325124005121636231044132y1z0z51282z00433023032x3225uxzxw2w42//95866263113424456625575450y53754842475502266467863567445655/3662444zyz3x1xv25z3y282346437266413+7625020341651z222043413549656033247645615446564765741yvwz0ztux0uzw3431653744830227554644247302566535529110y3202z0z13214635423359725356576483773225667/84689////97/9844+8887+/68+9667//78785/8//76/7667+699599/867//67969/3yz214y30213354439877731824450675z346503z1257/46740191560433342434152481336011z546z0y212xyxzz1y654348463238544445522561zzy534375664504001x14105+3312541312448534200599389+694+67+///9+/////+/6+9++///9/+7/+8989/////9/79/8/++/8///////8/89/7/////++8//z53225002yz14986z184486765549799735677438767586637637768138365562+49748159847/5+87012xxxzyzyy1149313520200/5543137444403125030320435064x355229444544351254zy2y252312343432z0z1y13592217276+8/87744475455681150y67+853925+756386689687456654766535+79343044zzxzy1zzy522y634182051229263424347441514657891155065454655540y5285824112++08zz61334+210310466246886+76979+97766449//68/755+55567564478688+78788+775797557763466553266+2546170644669/39479466859/6527+875736447865/+6+8/96455775+4779052356/8572546uzzx0400xzu20564014354112z102x20yw0113w011zz11313zy01y0024022511xyv100w1023yu2xy1ywzyzw3xwxztvv253030zz2y41x0284656016864201z053252022x404x10y2043551513152162794715zyw3y4zw583528/64469855653755433703y32425135575610z7859649/84457226323574642777822x121z3z3x241vz2zy343542464553337323313y02156542186556465847755556324203xzy611111442022y1w0243z385156337432+424353z5z044344556610276552322512222554z5017162z361x12323hieilljjkliplwtvnrusrumqqolmqopototosrmtnlptotnpstqpqnooooopqnmtqrpqmopmnpsllljqrssknnksnkmllqqz0uwyxvxsmtrqoquqtvppttsvqrrrnppttqqnpotuuqptrsqvtrprowusvwsqqoqqpvpqlllomqmnoopqlyzvtxyvuppqsqqvrpmqsrrnrqpooqoqqqkmtrupqnqrqqqpptttrsrrlrqrrqsnoppqqrmnkpnqmnikillwwtowunxnoptrpsrqrutrrsplpouqsttqsorqqpnmqpppoqoqproqqsqnqnmrompnnooninjjihhgffihhnuqqssqrnkpnkmlqmnopoooornkhklnoonqlnnjlinmllmnopllknmmjglimppmmpjnomijfehfffglgjhxwuqtvstmijonmikgilmiiinojlqkmmijfkprllkiplhlmljmnqimkjommmkikjnjlljkilllilhijlmlltusnssssqltqpmpjkjpmkqomnnppoqpnonjnmjgoknonjqqnojkmonkjmkkkktmmnknjoklklhhfbdikkgqrqutwsrnolljlhmmnlnmnnponloppromnlpkmnmjqnoooqnnonjnmqnkljlnolmtoqlqjikolnmlijkiitutqtuturpqpmnosqnsmqnnpqoppmsrmonpljolpimlqqqpspptnonomjlmklokrrswnnhflhfnijgeigmvvtlttsuojlnlnljghijojnlnhjmknhkjlikjgfjjgjkkklmmnljpjmnmngkmnigieiljglejfnkillkmmwywqustsonnrprqnkmpqrsrpqpouppspotqooplupwsmqpprvttlsqslmmjorsnomltomjillhplljighjtttsuxuwjkloijnmmpitptomlnnjckoppmqmkjhmfmklopqmlkknnnkkmlmlkmmnlkpmljfekhlknkmiijvwrqusruoiorormqknnplmkqrnnrnlmtnomrnnlmlkljkpkpnnrnqpokkmimlmjlljlmpkikkklklilillwytntsruorksppkqlpqlhlmqrkpnklksrnlommolkpqokqjorooolqqmnmmljnklpnnpoikkmknjkgkkjhvwrqsqsvlllnlspmkmiomrlnljkmmmkrnnohnmjqlssnmqkikkljrnnmlninnokmkglgmkllkkihihljmhutprutusqlppooqomknqmjnlkhljlomqoolnmonplotmqnrmlloqnlrolsjlqkjmqmminljijjifoilkmjtvrptqtsplmkilkllkolkmmnpkjjilmmojmqoljmlnkmljkjsloljnpolmkqnimljknmpfgikhikfihhekurosrqsskokplpmnloopmpnoqmqjllnkjpjinmjlnqnnnopnoollrmmklkiiijkkihlnlklklhjkinnmnjtyttuttroppqpqpoionporonoolpllnpqpqjpmlskqmqptroqntpommnnpkmmonnmklioeejgilojhkjklmsshpnosohjkkhmgfgenklklmkfjgeljhffiljdmimiikjhijkjfihgjglgfkjgkkjifhnmoqmmoinmilkyuwutwvwtsqvsuovsuwrnqmoqnsstvsqtsurvnsvotpsnrqptrsqpqtuwvtrrxsromqvsnlplmoiliignkwwurqwuvpormmmltpoomoqnqolnmllonrmnsqkgolnploqoqsqonopqlkplljoqjkmngkkkjimokjfkjkiuyrpwssokikpqllkpppqloqjlljnkmnlloonoijpnkokkkljmonkpnplkofkpnnjlkljnddeeggeghggifoplmosplkchjhghfbhhifljehefedbeeffhgkgihifgiikfgiehfkihgfjeeffchdhefmlifgdhefehhjbutnnmplqjkmpnmnjkgkhgnjikjikhjglgjloklkmgnlhjjfjkkkmjlnkmkihimkgjikokbcZbefcYifdjbvsmfnnlplhkmjmjohhfkihggkghgegfmjjlmlihihmmiigiikkkgolkiijfjklikmklhhcddcdgdggfeigqxqjpmmoffihiigkghgiggigffdgiijiiihjfgggghhhikjhhihhfhhknjigkmfelikikfhfgikegfikjkvsnklqqsolnokjlohkiifmjkmhiddggpjjkiigfjgikkelkjqmlmmkqpkjmkjqjfmfjllijifimeleifketoopqtstojrsonppmnotoqsrpljolmmpoprpnoqokrmmoqojjnrkpmornohqpqoookpjjfgdgejeeeeefgpsrmsrqmighojmilinkkiijmmgnmjlmjjhlkkjjijjjijmflpnllhjjhlnkkknkghjjjjhhjkdhigifjlhpppornpnmkpongjllkionljnjjjplnrnljjoknemkmjjlljkkojjplijhkgplmjmlmokhgeabehefafdfbknffmoookefjgjjfghkhhjihjfgecccegjfjiigiiggigfehggjgiilgfkgjjhhgfeiifZYXaaaZaUXXZYkljihjiiebchdedddbegeefeaXdabZdXbbYdfcddXZbaaabfabebeddedcUafhfcaccbXehhiimidgihgkrvslrqoonkpooplqjrolhpjnrkmjmgjoollpjpnmlmhjjnlpnilikopoomlllolkljknncXbbaaZZVbWYamnminkkgfcefdhfhdfjiidiiilhhbedhffhhhhhefecaecefhgefdjeffgfeaedZbZeebagbeYeYWbaccWlllilngghdfhhfgjhbiheifijfejehiijdfjiikjdhfefefeigljjhideidhdgffecicfaccdahfbbeZZdovnlnlnoeehjhjjiggkkkimfgfghfejgefkkmfegchjiijgiihfggiihgiibigcgihgghXZUZacaZaaZXZmhhjkjmifdeggfidcegecidhffdeefkefcggecidedbfeffdceeffgiifffhehefZdefcUXaebeWaZZabdjlkknjhjladedjhgbgefbefjefcfcbdihhjehfglfkifgeggigghfhlkjkiihhfdcdcgeZdbacgcdfkagboplklpknpjkpkllkeihfgjkmnjhifgiikhhgkkjmhmiebhijkfkhiimihfejfkhhfgefeZdbcbdaaecXZcqondkkpkjdmgdXegfehhdchdigffcgfffagddfghedefbdggigjfgdffbibaffcjifdfdddhgbgcbbdZgblqjhmmmnlhljihggeffhfcimmjigggjhkhiggffiggfkjmkfhijikimhgnghhgiigehjhebZcfdefWaZaemqkkmmkplkhieghgfhkmhkjjiedhehhjiifhihfjjkjlfggiljihhhjjkngddigigccmjdddheedacecedknhfmjikihjiefjfaefhgifdgbbgfceceafikceecfffeghgifhijijbeebhedicdecdhbcfgcbcXefcgahkieigjmjgfigegifhgkiigifddhffgkhhgiffggdhgchdfcejiZgcghaihdhgcffehfgdZaYcceebaaZXkgihjkjnhehfaijkgehlijgcddehgbgkeieghdhfdigdfggechdchfiifmeejffddigekUWWYSXWXTWXZXcffdihfhhXdechffeafjdggdeabebcakhjicdZaiegkdccbeddcbbbfZddeeZcZdZbachaabcXYXXWaadYkkhghjjiccdfdfcgafehihedjgeefbdhliichhffhhihdieigiicegefegdefhhhefeZfhejjejegeghjfgighhkimqokpdkklkjjifffmkjiljimnhgkkjhjmjjljmmlhfhhghljnjkgihjjjjjmpkccdddgadZdbeahlihgokiiigmdjjmmkkedhhgihhifbhijhhgkecjjhjggffhmfmhkjmjjkfgjkkhgflhgdaZdceXXZabaaiojbfchhgddebabfYbdgaacdgZbddcegceceiedfbggcidcfgbbcdgfebaddcaZeebddZXZVYUZUTWWTYVededccYZcZXZZeefadeddecddcdaTXWccZfcgbccbeYdcfagbheadbacbeWZYdYcdZhbZaedbdaZdXYVYdeffgdfhhececdcgdfciggicZgadecdgdddeffcaaXbfecdcdffcceegiedcddYbbcgccgWYYWabZZaYVgahhebdfffhgegehchaacifhebhdfdcdfghigedabffeaZddcaggighgjbcddbceYbeXdeXSUTUSTQYTSQTUeebWccccdaZdeceaYZdcYbaZcZWgabbZbbabbXZbVZWcegbXdcfYcYebYcYaZecabZYabZYYbaZXWYaZaafhgbgfhligigdjdkcfgghkgihdgedfiidfbdgfgfdeegkhicgigdhfhfghefgfcgifkfgWWVWVUQUTUWTWdcdaddeabXacUXYdWabfbfcdeYXebZYYbdYafbdZbbaYbacYbcdaccfZZdWZYaZZaXbZZVTVUTSTSTRTUTbdaYYacbdYYdabadZechfdhefcdgcedfbecgdbYedgiYYbcekhhdehedecZaZfdccfeafXZWWXWVQVUUQXeegelidbaZbeaWZXWaYbVZaabZaYXYZaXXadZVYcebfaddYXZadZWXcYZaXZWaYbXVYcaXXWbWXWWUbXXYdaaWaedddbZaXXbeacdcaZaaeYbZXVbdddfXdYWcYeaXZbZYZcZaZbbYadYZadbbYYYZcVTQTSWUXUUUXWdbXVWbadbWbaZYdbZZZXYYZbaXbXTVXbacaUWYVaZcYWaaXXZaYabacWZZUUTWVXXTVYXZXdYbfeZYcZYVfecYeccdcecfcYdhbdfefgfghafdcbbcbdchefcfghgecfcdgffgdgjbcfbehfeadddbdROQSTVTTKNRQUWYROTSRWXTWWSTZRPVTaVVVUVSQRTQQUUUTVURSWXZWRSUTUUVUVXUWSPRRTTWQWVTTPORSUURSPQROWWRWWTVXYYZacbYXaVbYYVVYYabhcdZUUVXaXVYYXaXWZZcbcZaZaaZWZZTVVSbZdZYaaXZYNSOQNTQLQSQXSYZZSXZXYXVXbYaaXWabXWXUgfZcaYadYYVWcdXbYXYZZYfZYbWUZYbaWVSXZceabUacUWNQQTPRPONOKSNVSSRTYVTTSTVWWVRQRRQPOSVUTSSRQQVVUVRTUSTPQWSRUTQQPUSTSQROSPRUXUSTQTSRSRRVOUTSTWRVTYSWUYWZRUPQRVSUSSTXYTYdQTRORUPRTQTUUWQTXUTZSSQQTQSTUYYWQVSTXSVVZUVYPSNPNPQQILQRLPIXUSPWTSRTPUWSQTWSUXOQQPSTTVSQRNUTUVYVXVUTSUTUYWQVVVSVVTQSPOTRSSSQPQZULLNNNQMLLNLPLTYWVUTQSURTWRTPaXVTWTRTVUTSUQQQURUQRUVRUTWUURVSVUSWQQQRTQSSVWWTSSRRQXRRMSPSPPPVRVPSZSUVTUUZUTVQRSbWUYTRURWWUTSPRPXVSWTUQRTTYYWZWZUTTUUOTRXWXRURVTXTUYXWJOOLRRPQQRRSPWTTRUVWTXPTYUUPVYSUYRVXRVTSVOQRWUSTQTRPQURRQSUSUYWWUTWWXPWVRYXXQRQUUVKRNQKMMMLKJOKPSJNPNQSTPQSOQRSRMOURSTVUSTPQSNRUSRPTRPTQSSRTVRPRSQSSSSPRPPPQVNQUPQPQPPORRUPPPPQRNUXWTXYZPSPRQSRQSPRNRUUVSWSRTPRQTTVVQOLQRQQPTUUSMROSPSTSOSRPQSROMSSUQRPONMOSQLRPPRMSSONTUSQOQPVRRQTNRPRUSSOUMTTSPTPSPMPTOOOMPUTRLRRSWSSRQVROURNQWSPOPQUTIHKKKMHHMONPJMSMLPQOMPLLPOMQROPLQOOROLLNPLHPQLMLTOPPOMNQKQRPNOQPLPORONTOQTSPLMKTORMKMMLNLJMLOOMPRPILLPRSMRSSOQTMQPTMSOSQPNPPPROTQSOPPOSOUOKNMNLNOPPMPTNQRQRQQPPPPRPQLKMNIJNIGMKJNQVTKQSOSQNOUQSMPNPQQLNMSRLPLSORURQQORNNTPUSPSSMNTRQQQQSPRRMORSQPPMOPPLMNQJNJKKMLMLLQLILMNPPLNMNQNMKMNNJNLQTQNNQPNNOONLNIENJQQNOONLNMNOMOMNKLLMRNLLKIOSTCBEFGGEJCGDHHLLGHINJLNINLKLMIGIKMGKHMKJKJIJIIJLKEGCELJIHFHGGEIGGFKMKIKLHIJFGGECFFHCEEHCGAAHGFFCJMIDHIJHGIIJIKHNGHIIHHGIHEIIDBIFFHHHIFFIGLFHGFDIFGJBGGHGHFHHGMIIHGHEEDCEGAGFCEFBGDJNIDIHEJKDGLHFHLGFGBCFFLKGHCGFGFBABDGFCLCIKDKHDHGGFIKIKLHGDDCEDIHGIEE","ox":0.3,"oy":0.7}];
H.forEach(function(m){
 var c=document.getElementById(m.id); var W=c.width, Ht=c.height; var ctx=c.getContext('2d');
 var im=ctx.createImageData(W,Ht); var p=im.data;
 var cw=m.w/m.nc, rh=m.h/m.nr;
 for(var y=0;y<Ht;y++){ var yy=y+0.5-m.oy; if(yy<0||yy>=m.h) continue; var r=Math.min(m.nr-1,Math.floor(yy/rh));
  for(var x=0;x<W;x++){ var xx=x+0.5-m.ox; if(xx<0||xx>=m.w) continue; var col=Math.min(m.nc-1,Math.floor(xx/cw));
   var v=B.indexOf(m.d.charAt(r*m.nc+col))/63; var R,G,Bb;
   if(v<0.5){R=G=Math.round(510*v);Bb=255;}else{R=255;G=Bb=Math.round(510*(1-v));}
   var i=(y*W+x)*4; p[i]=R;p[i+1]=G;p[i+2]=Bb;p[i+3]=255; }}
 ctx.putImageData(im,0,0);
});
})();
</script>
</body></html>
